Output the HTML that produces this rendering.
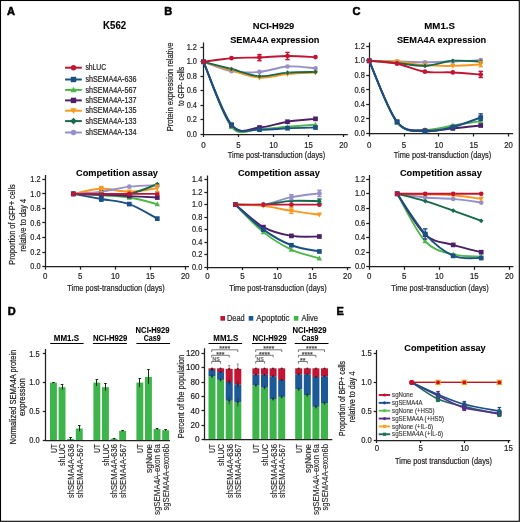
<!DOCTYPE html><html><head><meta charset="utf-8"><style>html,body{margin:0;padding:0;background:#fff;overflow:hidden;}svg{display:block;font-family:"Liberation Sans",sans-serif;}#main{filter:blur(0.3px);}</style></head><body>
<svg width="520" height="522" viewBox="0 0 520 522">
<rect x="0" y="0" width="520" height="522" fill="#fff"/>
<g id="main">
<text x="7" y="15" font-size="11" text-anchor="start" font-weight="bold" fill="#000" stroke="#000" stroke-width="0.1" style="stroke-width:0.55px">A</text>
<text x="164.2" y="15" font-size="11" text-anchor="start" font-weight="bold" fill="#000" stroke="#000" stroke-width="0.1" style="stroke-width:0.55px">B</text>
<text x="352.6" y="15" font-size="11" text-anchor="start" font-weight="bold" fill="#000" stroke="#000" stroke-width="0.1" style="stroke-width:0.55px">C</text>
<text x="7.8" y="314.8" font-size="11" text-anchor="start" font-weight="bold" fill="#000" stroke="#000" stroke-width="0.1" style="stroke-width:0.55px">D</text>
<text x="336.6" y="314.8" font-size="11" text-anchor="start" font-weight="bold" fill="#000" stroke="#000" stroke-width="0.1" style="stroke-width:0.55px">E</text>
<text x="114.6" y="28.9" font-size="10.2" text-anchor="middle" font-weight="bold" fill="#000" stroke="#000" stroke-width="0.1" textLength="23" lengthAdjust="spacingAndGlyphs" >K562</text>
<line x1="65.1" y1="67.7" x2="81.8" y2="67.7" stroke="#c41434" stroke-width="2" />
<circle cx="73.5" cy="67.7" r="2.7" fill="#c41434"/>
<text x="85.4" y="70.3" font-size="8.2" text-anchor="start" fill="#231f20" stroke="#231f20" stroke-width="0.22" textLength="20.8" lengthAdjust="spacingAndGlyphs" >shLUC</text>
<line x1="65.1" y1="79.5" x2="81.8" y2="79.5" stroke="#1b5085" stroke-width="2" />
<rect x="70.8" y="76.8" width="5.4" height="5.4" fill="#1b5085"/>
<text x="85.4" y="82.1" font-size="8.2" text-anchor="start" fill="#231f20" stroke="#231f20" stroke-width="0.22" textLength="51.1" lengthAdjust="spacingAndGlyphs" >shSEMA4A-636</text>
<line x1="65.1" y1="89.9" x2="81.8" y2="89.9" stroke="#4cb848" stroke-width="2" />
<polygon points="73.5,86.66 70.39,92.33 76.61,92.33" fill="#4cb848"/>
<text x="85.4" y="92.5" font-size="8.2" text-anchor="start" fill="#231f20" stroke="#231f20" stroke-width="0.22" textLength="51.1" lengthAdjust="spacingAndGlyphs" >shSEMA4A-567</text>
<line x1="65.1" y1="100.4" x2="81.8" y2="100.4" stroke="#4c2068" stroke-width="2" />
<rect x="70.8" y="97.7" width="5.4" height="5.4" fill="#4c2068"/>
<text x="85.4" y="103" font-size="8.2" text-anchor="start" fill="#231f20" stroke="#231f20" stroke-width="0.22" textLength="51.1" lengthAdjust="spacingAndGlyphs" >shSEMA4A-137</text>
<line x1="65.1" y1="110.7" x2="81.8" y2="110.7" stroke="#f8981d" stroke-width="2" />
<polygon points="73.5,113.94 70.39,108.27 76.61,108.27" fill="#f8981d"/>
<text x="85.4" y="113.3" font-size="8.2" text-anchor="start" fill="#231f20" stroke="#231f20" stroke-width="0.22" textLength="51.1" lengthAdjust="spacingAndGlyphs" >shSEMA4A-135</text>
<line x1="65.1" y1="121.1" x2="81.8" y2="121.1" stroke="#16694a" stroke-width="2" />
<polygon points="73.5,117.72 76.88,121.1 73.5,124.47 70.12,121.1" fill="#16694a"/>
<text x="85.4" y="123.7" font-size="8.2" text-anchor="start" fill="#231f20" stroke="#231f20" stroke-width="0.22" textLength="51.1" lengthAdjust="spacingAndGlyphs" >shSEMA4A-133</text>
<line x1="65.1" y1="132.5" x2="81.8" y2="132.5" stroke="#9590cc" stroke-width="2" />
<circle cx="73.5" cy="132.5" r="2.7" fill="#9590cc"/>
<text x="85.4" y="135.1" font-size="8.2" text-anchor="start" fill="#231f20" stroke="#231f20" stroke-width="0.22" textLength="51.1" lengthAdjust="spacingAndGlyphs" >shSEMA4A-134</text>
<text x="273.5" y="28.6" font-size="9.6" text-anchor="middle" font-weight="bold" fill="#000" stroke="#000" stroke-width="0.1" textLength="41.7" lengthAdjust="spacingAndGlyphs" >NCI-H929</text>
<text x="274.8" y="42.6" font-size="9.6" text-anchor="middle" font-weight="bold" fill="#000" stroke="#000" stroke-width="0.1" textLength="89.3" lengthAdjust="spacingAndGlyphs" >SEMA4A expression</text>
<line x1="203.5" y1="42.5" x2="203.5" y2="134.5" stroke="#231f20" stroke-width="1.25" />
<line x1="200.5" y1="134.5" x2="203.5" y2="134.5" stroke="#231f20" stroke-width="1.25" />
<text x="197" y="136.65" font-size="8.6" text-anchor="end" fill="#231f20" stroke="#231f20" stroke-width="0.22" textLength="10.3" lengthAdjust="spacingAndGlyphs" >0.0</text>
<line x1="200.5" y1="119.5" x2="203.5" y2="119.5" stroke="#231f20" stroke-width="1.25" />
<text x="197" y="122.21" font-size="8.6" text-anchor="end" fill="#231f20" stroke="#231f20" stroke-width="0.22" textLength="10.3" lengthAdjust="spacingAndGlyphs" >0.2</text>
<line x1="200.5" y1="105.5" x2="203.5" y2="105.5" stroke="#231f20" stroke-width="1.25" />
<text x="197" y="107.77" font-size="8.6" text-anchor="end" fill="#231f20" stroke="#231f20" stroke-width="0.22" textLength="10.3" lengthAdjust="spacingAndGlyphs" >0.4</text>
<line x1="200.5" y1="90.5" x2="203.5" y2="90.5" stroke="#231f20" stroke-width="1.25" />
<text x="197" y="93.33" font-size="8.6" text-anchor="end" fill="#231f20" stroke="#231f20" stroke-width="0.22" textLength="10.3" lengthAdjust="spacingAndGlyphs" >0.6</text>
<line x1="200.5" y1="76.5" x2="203.5" y2="76.5" stroke="#231f20" stroke-width="1.25" />
<text x="197" y="78.89" font-size="8.6" text-anchor="end" fill="#231f20" stroke="#231f20" stroke-width="0.22" textLength="10.3" lengthAdjust="spacingAndGlyphs" >0.8</text>
<line x1="200.5" y1="61.5" x2="203.5" y2="61.5" stroke="#231f20" stroke-width="1.25" />
<text x="197" y="64.45" font-size="8.6" text-anchor="end" fill="#231f20" stroke="#231f20" stroke-width="0.22" textLength="10.3" lengthAdjust="spacingAndGlyphs" >1.0</text>
<line x1="200.5" y1="47.5" x2="203.5" y2="47.5" stroke="#231f20" stroke-width="1.25" />
<text x="197" y="50.01" font-size="8.6" text-anchor="end" fill="#231f20" stroke="#231f20" stroke-width="0.22" textLength="10.3" lengthAdjust="spacingAndGlyphs" >1.2</text>
<line x1="203" y1="134.5" x2="347.8" y2="134.5" stroke="#231f20" stroke-width="1.25" />
<line x1="203.5" y1="134" x2="203.5" y2="137" stroke="#231f20" stroke-width="1.25" />
<text x="203.5" y="147.8" font-size="8.6" text-anchor="middle" fill="#231f20" stroke="#231f20" stroke-width="0.22" textLength="4.4" lengthAdjust="spacingAndGlyphs" >0</text>
<line x1="238.5" y1="134" x2="238.5" y2="137" stroke="#231f20" stroke-width="1.25" />
<text x="238.5" y="147.8" font-size="8.6" text-anchor="middle" fill="#231f20" stroke="#231f20" stroke-width="0.22" textLength="4.4" lengthAdjust="spacingAndGlyphs" >5</text>
<line x1="273.5" y1="134" x2="273.5" y2="137" stroke="#231f20" stroke-width="1.25" />
<text x="273.5" y="147.8" font-size="8.6" text-anchor="middle" fill="#231f20" stroke="#231f20" stroke-width="0.22" textLength="8.6" lengthAdjust="spacingAndGlyphs" >10</text>
<line x1="308.5" y1="134" x2="308.5" y2="137" stroke="#231f20" stroke-width="1.25" />
<text x="308.5" y="147.8" font-size="8.6" text-anchor="middle" fill="#231f20" stroke="#231f20" stroke-width="0.22" textLength="8.6" lengthAdjust="spacingAndGlyphs" >15</text>
<line x1="343.5" y1="134" x2="343.5" y2="137" stroke="#231f20" stroke-width="1.25" />
<text x="343.5" y="147.8" font-size="8.6" text-anchor="middle" fill="#231f20" stroke="#231f20" stroke-width="0.22" textLength="8.6" lengthAdjust="spacingAndGlyphs" >20</text>
<text x="276.5" y="157.9" font-size="9.4" text-anchor="middle" fill="#231f20" stroke="#231f20" stroke-width="0.22" textLength="97.5" lengthAdjust="spacingAndGlyphs" >Time post-transduction (days)</text>
<text transform="translate(172.6 86.9) rotate(-90)" x="0" y="0" font-size="8.6" text-anchor="middle" fill="#231f20" stroke="#231f20" stroke-width="0.22" textLength="88.5" lengthAdjust="spacingAndGlyphs">Protein expression relative</text>
<text transform="translate(183.6 86.4) rotate(-90)" x="0" y="0" font-size="8.6" text-anchor="middle" fill="#231f20" stroke="#231f20" stroke-width="0.22" textLength="39" lengthAdjust="spacingAndGlyphs">to GFP- cells</text>
<path d="M203.5,61.8 C208.17,63.36 222.17,69.5 231.5,71.19 C240.83,72.87 250.17,72.69 259.5,71.91 C268.83,71.13 278.17,67.09 287.5,66.49 C296.83,65.89 310.83,68 315.5,68.3" fill="none" stroke="#9590cc" stroke-width="1.9" stroke-linejoin="round"/>
<path d="M203.5,61.8 C208.17,63.24 222.17,67.82 231.5,70.46 C240.83,73.11 250.17,77.08 259.5,77.68 C268.83,78.29 278.17,74.92 287.5,74.07 C296.83,73.23 310.83,72.87 315.5,72.63" fill="none" stroke="#f8981d" stroke-width="1.9" stroke-linejoin="round"/>
<path d="M203.5,61.8 C208.17,63 222.17,66.61 231.5,69.02 C240.83,71.43 250.17,75.64 259.5,76.24 C268.83,76.84 278.17,73.35 287.5,72.63 C296.83,71.91 310.83,72.03 315.5,71.91" fill="none" stroke="#16694a" stroke-width="1.9" stroke-linejoin="round"/>
<path d="M203.5,61.8 C208.17,72.63 222.17,115.59 231.5,126.78 C240.83,137.97 250.17,128.95 259.5,128.95 C268.83,128.95 278.17,127.5 287.5,126.78 C296.83,126.06 310.83,124.98 315.5,124.61" fill="none" stroke="#4cb848" stroke-width="1.9" stroke-linejoin="round"/>
<path d="M203.5,61.8 C208.17,72.39 222.17,114.39 231.5,125.34 C240.83,136.29 250.17,128.1 259.5,127.5 C268.83,126.9 278.17,123.17 287.5,121.73 C296.83,120.28 310.83,119.32 315.5,118.84" fill="none" stroke="#4c2068" stroke-width="1.9" stroke-linejoin="round"/>
<path d="M203.5,61.8 C208.17,72.27 222.17,113.3 231.5,124.61 C240.83,135.93 250.17,129.07 259.5,129.67 C268.83,130.27 278.17,128.58 287.5,128.22 C296.83,127.86 310.83,127.62 315.5,127.5" fill="none" stroke="#1b5085" stroke-width="1.9" stroke-linejoin="round"/>
<path d="M203.5,61.8 C208.17,61.2 222.17,58.91 231.5,58.19 C240.83,57.47 250.17,57.83 259.5,57.47 C268.83,57.11 278.17,56.08 287.5,56.02 C296.83,55.96 310.83,56.93 315.5,57.11" fill="none" stroke="#c41434" stroke-width="1.9" stroke-linejoin="round"/>
<circle cx="203.5" cy="61.8" r="2.35" fill="#9590cc"/>
<circle cx="231.5" cy="71.19" r="2.35" fill="#9590cc"/>
<circle cx="259.5" cy="71.91" r="2.35" fill="#9590cc"/>
<circle cx="287.5" cy="66.49" r="2.35" fill="#9590cc"/>
<circle cx="315.5" cy="68.3" r="2.35" fill="#9590cc"/>
<polygon points="203.5,64.62 200.8,59.68 206.2,59.68" fill="#f8981d"/>
<polygon points="231.5,73.28 228.8,68.35 234.2,68.35" fill="#f8981d"/>
<polygon points="259.5,80.5 256.8,75.57 262.2,75.57" fill="#f8981d"/>
<polygon points="287.5,76.89 284.8,71.96 290.2,71.96" fill="#f8981d"/>
<polygon points="315.5,75.45 312.8,70.52 318.2,70.52" fill="#f8981d"/>
<polygon points="203.5,59.45 205.85,61.8 203.5,64.15 201.15,61.8" fill="#16694a"/>
<polygon points="231.5,66.67 233.85,69.02 231.5,71.37 229.15,69.02" fill="#16694a"/>
<polygon points="259.5,73.89 261.85,76.24 259.5,78.59 257.15,76.24" fill="#16694a"/>
<polygon points="287.5,70.28 289.85,72.63 287.5,74.98 285.15,72.63" fill="#16694a"/>
<polygon points="315.5,69.56 317.85,71.91 315.5,74.26 313.15,71.91" fill="#16694a"/>
<polygon points="203.5,58.98 200.8,63.91 206.2,63.91" fill="#4cb848"/>
<polygon points="231.5,123.96 228.8,128.9 234.2,128.9" fill="#4cb848"/>
<polygon points="259.5,126.13 256.8,131.06 262.2,131.06" fill="#4cb848"/>
<polygon points="287.5,123.96 284.8,128.9 290.2,128.9" fill="#4cb848"/>
<polygon points="315.5,121.79 312.8,126.73 318.2,126.73" fill="#4cb848"/>
<rect x="201.15" y="59.45" width="4.7" height="4.7" fill="#4c2068"/>
<rect x="229.15" y="122.99" width="4.7" height="4.7" fill="#4c2068"/>
<rect x="257.15" y="125.15" width="4.7" height="4.7" fill="#4c2068"/>
<rect x="285.15" y="119.38" width="4.7" height="4.7" fill="#4c2068"/>
<rect x="313.15" y="116.49" width="4.7" height="4.7" fill="#4c2068"/>
<rect x="201.15" y="59.45" width="4.7" height="4.7" fill="#1b5085"/>
<rect x="229.15" y="122.26" width="4.7" height="4.7" fill="#1b5085"/>
<rect x="257.15" y="127.32" width="4.7" height="4.7" fill="#1b5085"/>
<rect x="285.15" y="125.87" width="4.7" height="4.7" fill="#1b5085"/>
<rect x="313.15" y="125.15" width="4.7" height="4.7" fill="#1b5085"/>
<circle cx="203.5" cy="61.8" r="2.35" fill="#c41434"/>
<circle cx="231.5" cy="58.19" r="2.35" fill="#c41434"/>
<circle cx="259.5" cy="57.47" r="2.35" fill="#c41434"/>
<circle cx="287.5" cy="56.02" r="2.35" fill="#c41434"/>
<circle cx="315.5" cy="57.11" r="2.35" fill="#c41434"/>
<line x1="259.5" y1="60.72" x2="259.5" y2="54.58" stroke="#c41434" stroke-width="1.4" />
<line x1="257.3" y1="60.72" x2="261.7" y2="60.72" stroke="#c41434" stroke-width="1.4" />
<line x1="257.3" y1="54.58" x2="261.7" y2="54.58" stroke="#c41434" stroke-width="1.4" />
<line x1="287.5" y1="59.63" x2="287.5" y2="52.41" stroke="#c41434" stroke-width="1.4" />
<line x1="285.3" y1="59.63" x2="289.7" y2="59.63" stroke="#c41434" stroke-width="1.4" />
<line x1="285.3" y1="52.41" x2="289.7" y2="52.41" stroke="#c41434" stroke-width="1.4" />
<text x="439.6" y="28.9" font-size="9.6" text-anchor="middle" font-weight="bold" fill="#000" stroke="#000" stroke-width="0.1" textLength="30.7" lengthAdjust="spacingAndGlyphs" >MM1.S</text>
<text x="441.6" y="42.6" font-size="9.6" text-anchor="middle" font-weight="bold" fill="#000" stroke="#000" stroke-width="0.1" textLength="89.3" lengthAdjust="spacingAndGlyphs" >SEMA4A expression</text>
<line x1="369.5" y1="42.5" x2="369.5" y2="134" stroke="#231f20" stroke-width="1.25" />
<line x1="366.2" y1="133.5" x2="369.2" y2="133.5" stroke="#231f20" stroke-width="1.25" />
<text x="364.8" y="136.15" font-size="8.6" text-anchor="end" fill="#231f20" stroke="#231f20" stroke-width="0.22" textLength="10.3" lengthAdjust="spacingAndGlyphs" >0.0</text>
<line x1="366.2" y1="118.5" x2="369.2" y2="118.5" stroke="#231f20" stroke-width="1.25" />
<text x="364.8" y="121.61" font-size="8.6" text-anchor="end" fill="#231f20" stroke="#231f20" stroke-width="0.22" textLength="10.3" lengthAdjust="spacingAndGlyphs" >0.2</text>
<line x1="366.2" y1="104.5" x2="369.2" y2="104.5" stroke="#231f20" stroke-width="1.25" />
<text x="364.8" y="107.07" font-size="8.6" text-anchor="end" fill="#231f20" stroke="#231f20" stroke-width="0.22" textLength="10.3" lengthAdjust="spacingAndGlyphs" >0.4</text>
<line x1="366.2" y1="89.5" x2="369.2" y2="89.5" stroke="#231f20" stroke-width="1.25" />
<text x="364.8" y="92.53" font-size="8.6" text-anchor="end" fill="#231f20" stroke="#231f20" stroke-width="0.22" textLength="10.3" lengthAdjust="spacingAndGlyphs" >0.6</text>
<line x1="366.2" y1="75.5" x2="369.2" y2="75.5" stroke="#231f20" stroke-width="1.25" />
<text x="364.8" y="77.99" font-size="8.6" text-anchor="end" fill="#231f20" stroke="#231f20" stroke-width="0.22" textLength="10.3" lengthAdjust="spacingAndGlyphs" >0.8</text>
<line x1="366.2" y1="60.5" x2="369.2" y2="60.5" stroke="#231f20" stroke-width="1.25" />
<text x="364.8" y="63.45" font-size="8.6" text-anchor="end" fill="#231f20" stroke="#231f20" stroke-width="0.22" textLength="10.3" lengthAdjust="spacingAndGlyphs" >1.0</text>
<line x1="366.2" y1="46.5" x2="369.2" y2="46.5" stroke="#231f20" stroke-width="1.25" />
<text x="364.8" y="48.91" font-size="8.6" text-anchor="end" fill="#231f20" stroke="#231f20" stroke-width="0.22" textLength="10.3" lengthAdjust="spacingAndGlyphs" >1.2</text>
<line x1="368.7" y1="133.5" x2="513.1" y2="133.5" stroke="#231f20" stroke-width="1.25" />
<line x1="369.5" y1="133.5" x2="369.5" y2="136.5" stroke="#231f20" stroke-width="1.25" />
<text x="369.2" y="147.8" font-size="8.6" text-anchor="middle" fill="#231f20" stroke="#231f20" stroke-width="0.22" textLength="4.4" lengthAdjust="spacingAndGlyphs" >0</text>
<line x1="404.5" y1="133.5" x2="404.5" y2="136.5" stroke="#231f20" stroke-width="1.25" />
<text x="404.05" y="147.8" font-size="8.6" text-anchor="middle" fill="#231f20" stroke="#231f20" stroke-width="0.22" textLength="4.4" lengthAdjust="spacingAndGlyphs" >5</text>
<line x1="438.5" y1="133.5" x2="438.5" y2="136.5" stroke="#231f20" stroke-width="1.25" />
<text x="438.9" y="147.8" font-size="8.6" text-anchor="middle" fill="#231f20" stroke="#231f20" stroke-width="0.22" textLength="8.6" lengthAdjust="spacingAndGlyphs" >10</text>
<line x1="473.5" y1="133.5" x2="473.5" y2="136.5" stroke="#231f20" stroke-width="1.25" />
<text x="473.75" y="147.8" font-size="8.6" text-anchor="middle" fill="#231f20" stroke="#231f20" stroke-width="0.22" textLength="8.6" lengthAdjust="spacingAndGlyphs" >15</text>
<line x1="508.5" y1="133.5" x2="508.5" y2="136.5" stroke="#231f20" stroke-width="1.25" />
<text x="508.6" y="147.8" font-size="8.6" text-anchor="middle" fill="#231f20" stroke="#231f20" stroke-width="0.22" textLength="8.6" lengthAdjust="spacingAndGlyphs" >20</text>
<text x="442.5" y="157.9" font-size="9.4" text-anchor="middle" fill="#231f20" stroke="#231f20" stroke-width="0.22" textLength="97.5" lengthAdjust="spacingAndGlyphs" >Time post-transduction (days)</text>
<path d="M369.2,60.8 C373.85,60.92 387.79,61.28 397.08,61.53 C406.37,61.77 415.67,62.25 424.96,62.25 C434.25,62.25 443.55,61.89 452.84,61.53 C462.13,61.16 476.07,60.32 480.72,60.07" fill="none" stroke="#9590cc" stroke-width="1.9" stroke-linejoin="round"/>
<path d="M369.2,60.8 C373.85,60.92 387.79,60.8 397.08,61.53 C406.37,62.25 415.67,64.44 424.96,65.16 C434.25,65.89 443.55,66.01 452.84,65.89 C462.13,65.77 476.07,64.68 480.72,64.44" fill="none" stroke="#f8981d" stroke-width="1.9" stroke-linejoin="round"/>
<path d="M369.2,60.8 C373.85,61.16 387.79,62.13 397.08,62.98 C406.37,63.83 415.67,66.25 424.96,65.89 C434.25,65.53 443.55,61.53 452.84,60.8 C462.13,60.07 476.07,61.41 480.72,61.53" fill="none" stroke="#16694a" stroke-width="1.9" stroke-linejoin="round"/>
<path d="M369.2,60.8 C373.85,71.1 387.79,111.08 397.08,122.59 C406.37,134.11 415.67,129.38 424.96,129.87 C434.25,130.35 443.55,126.96 452.84,125.5 C462.13,124.05 476.07,121.87 480.72,121.14" fill="none" stroke="#4cb848" stroke-width="1.9" stroke-linejoin="round"/>
<path d="M369.2,60.8 C373.85,70.98 387.79,110.24 397.08,121.87 C406.37,133.5 415.67,129.5 424.96,130.59 C434.25,131.68 443.55,129.26 452.84,128.41 C462.13,127.56 476.07,125.99 480.72,125.5" fill="none" stroke="#4c2068" stroke-width="1.9" stroke-linejoin="round"/>
<path d="M369.2,60.8 C373.85,70.98 387.79,110.11 397.08,121.87 C406.37,133.62 415.67,130.47 424.96,131.32 C434.25,132.17 443.55,129.26 452.84,126.96 C462.13,124.65 476.07,119.08 480.72,117.51" fill="none" stroke="#1b5085" stroke-width="1.9" stroke-linejoin="round"/>
<path d="M369.2,60.8 C373.85,61.28 387.79,61.89 397.08,63.71 C406.37,65.53 415.67,70.25 424.96,71.7 C434.25,73.16 443.55,71.95 452.84,72.43 C462.13,72.92 476.07,74.25 480.72,74.61" fill="none" stroke="#c41434" stroke-width="1.9" stroke-linejoin="round"/>
<circle cx="369.2" cy="60.8" r="2.35" fill="#9590cc"/>
<circle cx="397.08" cy="61.53" r="2.35" fill="#9590cc"/>
<circle cx="424.96" cy="62.25" r="2.35" fill="#9590cc"/>
<circle cx="452.84" cy="61.53" r="2.35" fill="#9590cc"/>
<circle cx="480.72" cy="60.07" r="2.35" fill="#9590cc"/>
<polygon points="369.2,63.62 366.5,58.68 371.9,58.68" fill="#f8981d"/>
<polygon points="397.08,64.35 394.38,59.41 399.78,59.41" fill="#f8981d"/>
<polygon points="424.96,67.98 422.26,63.05 427.66,63.05" fill="#f8981d"/>
<polygon points="452.84,68.71 450.14,63.77 455.54,63.77" fill="#f8981d"/>
<polygon points="480.72,67.25 478.02,62.32 483.42,62.32" fill="#f8981d"/>
<polygon points="369.2,58.45 371.55,60.8 369.2,63.15 366.85,60.8" fill="#16694a"/>
<polygon points="397.08,60.63 399.43,62.98 397.08,65.33 394.73,62.98" fill="#16694a"/>
<polygon points="424.96,63.54 427.31,65.89 424.96,68.24 422.61,65.89" fill="#16694a"/>
<polygon points="452.84,58.45 455.19,60.8 452.84,63.15 450.49,60.8" fill="#16694a"/>
<polygon points="480.72,59.18 483.07,61.53 480.72,63.88 478.37,61.53" fill="#16694a"/>
<polygon points="369.2,57.98 366.5,62.91 371.9,62.91" fill="#4cb848"/>
<polygon points="397.08,119.78 394.38,124.71 399.78,124.71" fill="#4cb848"/>
<polygon points="424.96,127.05 422.26,131.98 427.66,131.98" fill="#4cb848"/>
<polygon points="452.84,122.68 450.14,127.62 455.54,127.62" fill="#4cb848"/>
<polygon points="480.72,118.32 478.02,123.26 483.42,123.26" fill="#4cb848"/>
<rect x="366.85" y="58.45" width="4.7" height="4.7" fill="#4c2068"/>
<rect x="394.73" y="119.52" width="4.7" height="4.7" fill="#4c2068"/>
<rect x="422.61" y="128.24" width="4.7" height="4.7" fill="#4c2068"/>
<rect x="450.49" y="126.06" width="4.7" height="4.7" fill="#4c2068"/>
<rect x="478.37" y="123.15" width="4.7" height="4.7" fill="#4c2068"/>
<rect x="366.85" y="58.45" width="4.7" height="4.7" fill="#1b5085"/>
<rect x="394.73" y="119.52" width="4.7" height="4.7" fill="#1b5085"/>
<rect x="422.61" y="128.97" width="4.7" height="4.7" fill="#1b5085"/>
<rect x="450.49" y="124.61" width="4.7" height="4.7" fill="#1b5085"/>
<rect x="478.37" y="115.16" width="4.7" height="4.7" fill="#1b5085"/>
<circle cx="369.2" cy="60.8" r="2.35" fill="#c41434"/>
<circle cx="397.08" cy="63.71" r="2.35" fill="#c41434"/>
<circle cx="424.96" cy="71.7" r="2.35" fill="#c41434"/>
<circle cx="452.84" cy="72.43" r="2.35" fill="#c41434"/>
<circle cx="480.72" cy="74.61" r="2.35" fill="#c41434"/>
<line x1="480.72" y1="77.52" x2="480.72" y2="71.34" stroke="#c41434" stroke-width="1.4" />
<line x1="478.52" y1="77.52" x2="482.92" y2="77.52" stroke="#c41434" stroke-width="1.4" />
<line x1="478.52" y1="71.34" x2="482.92" y2="71.34" stroke="#c41434" stroke-width="1.4" />
<line x1="480.72" y1="120.41" x2="480.72" y2="113.87" stroke="#1b5085" stroke-width="1.4" />
<line x1="478.52" y1="120.41" x2="482.92" y2="120.41" stroke="#1b5085" stroke-width="1.4" />
<line x1="478.52" y1="113.87" x2="482.92" y2="113.87" stroke="#1b5085" stroke-width="1.4" />
<line x1="480.72" y1="66.62" x2="480.72" y2="61.53" stroke="#f8981d" stroke-width="1.4" />
<line x1="478.52" y1="66.62" x2="482.92" y2="66.62" stroke="#f8981d" stroke-width="1.4" />
<line x1="478.52" y1="61.53" x2="482.92" y2="61.53" stroke="#f8981d" stroke-width="1.4" />
<text x="117" y="176.4" font-size="9.6" text-anchor="middle" font-weight="bold" fill="#000" stroke="#000" stroke-width="0.1" textLength="82" lengthAdjust="spacingAndGlyphs" >Competition assay</text>
<line x1="45.5" y1="175" x2="45.5" y2="267.1" stroke="#231f20" stroke-width="1.25" />
<line x1="42.3" y1="266.5" x2="45.3" y2="266.5" stroke="#231f20" stroke-width="1.25" />
<text x="40.6" y="269.25" font-size="8.6" text-anchor="end" fill="#231f20" stroke="#231f20" stroke-width="0.22" textLength="10.3" lengthAdjust="spacingAndGlyphs" >0.0</text>
<line x1="42.3" y1="252.5" x2="45.3" y2="252.5" stroke="#231f20" stroke-width="1.25" />
<text x="40.6" y="254.71" font-size="8.6" text-anchor="end" fill="#231f20" stroke="#231f20" stroke-width="0.22" textLength="10.3" lengthAdjust="spacingAndGlyphs" >0.2</text>
<line x1="42.3" y1="237.5" x2="45.3" y2="237.5" stroke="#231f20" stroke-width="1.25" />
<text x="40.6" y="240.17" font-size="8.6" text-anchor="end" fill="#231f20" stroke="#231f20" stroke-width="0.22" textLength="10.3" lengthAdjust="spacingAndGlyphs" >0.4</text>
<line x1="42.3" y1="222.5" x2="45.3" y2="222.5" stroke="#231f20" stroke-width="1.25" />
<text x="40.6" y="225.63" font-size="8.6" text-anchor="end" fill="#231f20" stroke="#231f20" stroke-width="0.22" textLength="10.3" lengthAdjust="spacingAndGlyphs" >0.6</text>
<line x1="42.3" y1="208.5" x2="45.3" y2="208.5" stroke="#231f20" stroke-width="1.25" />
<text x="40.6" y="211.09" font-size="8.6" text-anchor="end" fill="#231f20" stroke="#231f20" stroke-width="0.22" textLength="10.3" lengthAdjust="spacingAndGlyphs" >0.8</text>
<line x1="42.3" y1="193.5" x2="45.3" y2="193.5" stroke="#231f20" stroke-width="1.25" />
<text x="40.6" y="196.55" font-size="8.6" text-anchor="end" fill="#231f20" stroke="#231f20" stroke-width="0.22" textLength="10.3" lengthAdjust="spacingAndGlyphs" >1.0</text>
<line x1="42.3" y1="179.5" x2="45.3" y2="179.5" stroke="#231f20" stroke-width="1.25" />
<text x="40.6" y="182.01" font-size="8.6" text-anchor="end" fill="#231f20" stroke="#231f20" stroke-width="0.22" textLength="10.3" lengthAdjust="spacingAndGlyphs" >1.2</text>
<line x1="44.8" y1="266.5" x2="189" y2="266.5" stroke="#231f20" stroke-width="1.25" />
<line x1="45.5" y1="266.6" x2="45.5" y2="269.6" stroke="#231f20" stroke-width="1.25" />
<text x="45.3" y="279.1" font-size="8.6" text-anchor="middle" fill="#231f20" stroke="#231f20" stroke-width="0.22" textLength="4.4" lengthAdjust="spacingAndGlyphs" >0</text>
<line x1="80.5" y1="266.6" x2="80.5" y2="269.6" stroke="#231f20" stroke-width="1.25" />
<text x="80.3" y="279.1" font-size="8.6" text-anchor="middle" fill="#231f20" stroke="#231f20" stroke-width="0.22" textLength="4.4" lengthAdjust="spacingAndGlyphs" >5</text>
<line x1="115.5" y1="266.6" x2="115.5" y2="269.6" stroke="#231f20" stroke-width="1.25" />
<text x="115.3" y="279.1" font-size="8.6" text-anchor="middle" fill="#231f20" stroke="#231f20" stroke-width="0.22" textLength="8.6" lengthAdjust="spacingAndGlyphs" >10</text>
<line x1="150.5" y1="266.6" x2="150.5" y2="269.6" stroke="#231f20" stroke-width="1.25" />
<text x="150.3" y="279.1" font-size="8.6" text-anchor="middle" fill="#231f20" stroke="#231f20" stroke-width="0.22" textLength="8.6" lengthAdjust="spacingAndGlyphs" >15</text>
<line x1="185.5" y1="266.6" x2="185.5" y2="269.6" stroke="#231f20" stroke-width="1.25" />
<text x="185.3" y="279.1" font-size="8.6" text-anchor="middle" fill="#231f20" stroke="#231f20" stroke-width="0.22" textLength="8.6" lengthAdjust="spacingAndGlyphs" >20</text>
<text x="116" y="291.3" font-size="9.4" text-anchor="middle" fill="#231f20" stroke="#231f20" stroke-width="0.22" textLength="97.5" lengthAdjust="spacingAndGlyphs" >Time post-transduction (days)</text>
<text transform="translate(14.6 224.5) rotate(-90)" x="0" y="0" font-size="8.6" text-anchor="middle" fill="#231f20" stroke="#231f20" stroke-width="0.22" textLength="80.4" lengthAdjust="spacingAndGlyphs">Proportion of GFP+ cells</text>
<text transform="translate(25.8 225.2) rotate(-90)" x="0" y="0" font-size="8.6" text-anchor="middle" fill="#231f20" stroke="#231f20" stroke-width="0.22" textLength="53" lengthAdjust="spacingAndGlyphs">relative to day 4</text>
<path d="M73.3,193.9 C77.97,193.05 91.97,189.17 101.3,188.81 C110.63,188.45 119.97,191.84 129.3,191.72 C138.63,191.6 152.63,188.69 157.3,188.08" fill="none" stroke="#f8981d" stroke-width="1.9" stroke-linejoin="round"/>
<path d="M73.3,193.9 C77.97,193.54 91.97,192.93 101.3,191.72 C110.63,190.51 119.97,187.72 129.3,186.63 C138.63,185.54 152.63,185.42 157.3,185.18" fill="none" stroke="#9590cc" stroke-width="1.9" stroke-linejoin="round"/>
<path d="M73.3,193.9 C77.97,193.9 91.97,193.9 101.3,193.9 C110.63,193.9 119.97,195.54 129.3,193.9 C138.63,192.26 152.63,185.72 157.3,184.09" fill="none" stroke="#16694a" stroke-width="1.9" stroke-linejoin="round"/>
<path d="M73.3,193.9 C77.97,194.14 91.97,194.75 101.3,195.35 C110.63,195.96 119.97,196.08 129.3,197.54 C138.63,198.99 152.63,202.99 157.3,204.08" fill="none" stroke="#4cb848" stroke-width="1.9" stroke-linejoin="round"/>
<path d="M73.3,193.9 C77.97,194.02 91.97,194.26 101.3,194.63 C110.63,194.99 119.97,195.6 129.3,196.08 C138.63,196.57 152.63,197.29 157.3,197.54" fill="none" stroke="#4c2068" stroke-width="1.9" stroke-linejoin="round"/>
<path d="M73.3,193.9 C77.97,194.75 91.97,197.29 101.3,198.99 C110.63,200.69 119.97,200.81 129.3,204.08 C138.63,207.35 152.63,216.19 157.3,218.62" fill="none" stroke="#1b5085" stroke-width="1.9" stroke-linejoin="round"/>
<path d="M73.3,193.9 C77.97,193.9 91.97,193.9 101.3,193.9 C110.63,193.9 119.97,193.9 129.3,193.9 C138.63,193.9 152.63,193.9 157.3,193.9" fill="none" stroke="#c41434" stroke-width="1.9" stroke-linejoin="round"/>
<polygon points="73.3,196.72 70.6,191.79 76,191.79" fill="#f8981d"/>
<polygon points="101.3,191.63 98.6,186.7 104,186.7" fill="#f8981d"/>
<polygon points="129.3,194.54 126.6,189.6 132,189.6" fill="#f8981d"/>
<polygon points="157.3,190.9 154.6,185.97 160,185.97" fill="#f8981d"/>
<circle cx="73.3" cy="193.9" r="2.35" fill="#9590cc"/>
<circle cx="101.3" cy="191.72" r="2.35" fill="#9590cc"/>
<circle cx="129.3" cy="186.63" r="2.35" fill="#9590cc"/>
<circle cx="157.3" cy="185.18" r="2.35" fill="#9590cc"/>
<polygon points="73.3,191.55 75.65,193.9 73.3,196.25 70.95,193.9" fill="#16694a"/>
<polygon points="101.3,191.55 103.65,193.9 101.3,196.25 98.95,193.9" fill="#16694a"/>
<polygon points="129.3,191.55 131.65,193.9 129.3,196.25 126.95,193.9" fill="#16694a"/>
<polygon points="157.3,181.74 159.65,184.09 157.3,186.44 154.95,184.09" fill="#16694a"/>
<polygon points="73.3,191.08 70.6,196.02 76,196.02" fill="#4cb848"/>
<polygon points="101.3,192.53 98.6,197.47 104,197.47" fill="#4cb848"/>
<polygon points="129.3,194.72 126.6,199.65 132,199.65" fill="#4cb848"/>
<polygon points="157.3,201.26 154.6,206.19 160,206.19" fill="#4cb848"/>
<rect x="70.95" y="191.55" width="4.7" height="4.7" fill="#4c2068"/>
<rect x="98.95" y="192.28" width="4.7" height="4.7" fill="#4c2068"/>
<rect x="126.95" y="193.73" width="4.7" height="4.7" fill="#4c2068"/>
<rect x="154.95" y="195.19" width="4.7" height="4.7" fill="#4c2068"/>
<rect x="70.95" y="191.55" width="4.7" height="4.7" fill="#1b5085"/>
<rect x="98.95" y="196.64" width="4.7" height="4.7" fill="#1b5085"/>
<rect x="126.95" y="201.73" width="4.7" height="4.7" fill="#1b5085"/>
<rect x="154.95" y="216.27" width="4.7" height="4.7" fill="#1b5085"/>
<circle cx="73.3" cy="193.9" r="2.35" fill="#c41434"/>
<circle cx="101.3" cy="193.9" r="2.35" fill="#c41434"/>
<circle cx="129.3" cy="193.9" r="2.35" fill="#c41434"/>
<circle cx="157.3" cy="193.9" r="2.35" fill="#c41434"/>
<line x1="101.3" y1="201.17" x2="101.3" y2="190.99" stroke="#1b5085" stroke-width="1.4" />
<line x1="99.1" y1="201.17" x2="103.5" y2="201.17" stroke="#1b5085" stroke-width="1.4" />
<line x1="99.1" y1="190.99" x2="103.5" y2="190.99" stroke="#1b5085" stroke-width="1.4" />
<line x1="101.3" y1="191.72" x2="101.3" y2="186.63" stroke="#f8981d" stroke-width="1.4" />
<line x1="99.1" y1="191.72" x2="103.5" y2="191.72" stroke="#f8981d" stroke-width="1.4" />
<line x1="99.1" y1="186.63" x2="103.5" y2="186.63" stroke="#f8981d" stroke-width="1.4" />
<line x1="157.3" y1="191.72" x2="157.3" y2="185.18" stroke="#f8981d" stroke-width="1.4" />
<line x1="155.1" y1="191.72" x2="159.5" y2="191.72" stroke="#f8981d" stroke-width="1.4" />
<line x1="155.1" y1="185.18" x2="159.5" y2="185.18" stroke="#f8981d" stroke-width="1.4" />
<text x="278.9" y="176.4" font-size="9.6" text-anchor="middle" font-weight="bold" fill="#000" stroke="#000" stroke-width="0.1" textLength="82" lengthAdjust="spacingAndGlyphs" >Competition assay</text>
<line x1="207.5" y1="175.5" x2="207.5" y2="267.6" stroke="#231f20" stroke-width="1.25" />
<line x1="204.4" y1="267.5" x2="207.4" y2="267.5" stroke="#231f20" stroke-width="1.25" />
<text x="202.3" y="269.75" font-size="8.6" text-anchor="end" fill="#231f20" stroke="#231f20" stroke-width="0.22" textLength="10.3" lengthAdjust="spacingAndGlyphs" >0.0</text>
<line x1="204.4" y1="254.5" x2="207.4" y2="254.5" stroke="#231f20" stroke-width="1.25" />
<text x="202.3" y="257.26" font-size="8.6" text-anchor="end" fill="#231f20" stroke="#231f20" stroke-width="0.22" textLength="10.3" lengthAdjust="spacingAndGlyphs" >0.2</text>
<line x1="204.4" y1="242.5" x2="207.4" y2="242.5" stroke="#231f20" stroke-width="1.25" />
<text x="202.3" y="244.77" font-size="8.6" text-anchor="end" fill="#231f20" stroke="#231f20" stroke-width="0.22" textLength="10.3" lengthAdjust="spacingAndGlyphs" >0.4</text>
<line x1="204.4" y1="229.5" x2="207.4" y2="229.5" stroke="#231f20" stroke-width="1.25" />
<text x="202.3" y="232.28" font-size="8.6" text-anchor="end" fill="#231f20" stroke="#231f20" stroke-width="0.22" textLength="10.3" lengthAdjust="spacingAndGlyphs" >0.6</text>
<line x1="204.4" y1="217.5" x2="207.4" y2="217.5" stroke="#231f20" stroke-width="1.25" />
<text x="202.3" y="219.79" font-size="8.6" text-anchor="end" fill="#231f20" stroke="#231f20" stroke-width="0.22" textLength="10.3" lengthAdjust="spacingAndGlyphs" >0.8</text>
<line x1="204.4" y1="204.5" x2="207.4" y2="204.5" stroke="#231f20" stroke-width="1.25" />
<text x="202.3" y="207.3" font-size="8.6" text-anchor="end" fill="#231f20" stroke="#231f20" stroke-width="0.22" textLength="10.3" lengthAdjust="spacingAndGlyphs" >1.0</text>
<line x1="204.4" y1="192.5" x2="207.4" y2="192.5" stroke="#231f20" stroke-width="1.25" />
<text x="202.3" y="194.81" font-size="8.6" text-anchor="end" fill="#231f20" stroke="#231f20" stroke-width="0.22" textLength="10.3" lengthAdjust="spacingAndGlyphs" >1.2</text>
<line x1="204.4" y1="179.5" x2="207.4" y2="179.5" stroke="#231f20" stroke-width="1.25" />
<text x="202.3" y="182.32" font-size="8.6" text-anchor="end" fill="#231f20" stroke="#231f20" stroke-width="0.22" textLength="10.3" lengthAdjust="spacingAndGlyphs" >1.4</text>
<line x1="206.9" y1="267.5" x2="350.7" y2="267.5" stroke="#231f20" stroke-width="1.25" />
<line x1="207.5" y1="267.1" x2="207.5" y2="270.1" stroke="#231f20" stroke-width="1.25" />
<text x="207.4" y="279.1" font-size="8.6" text-anchor="middle" fill="#231f20" stroke="#231f20" stroke-width="0.22" textLength="4.4" lengthAdjust="spacingAndGlyphs" >0</text>
<line x1="242.5" y1="267.1" x2="242.5" y2="270.1" stroke="#231f20" stroke-width="1.25" />
<text x="242.4" y="279.1" font-size="8.6" text-anchor="middle" fill="#231f20" stroke="#231f20" stroke-width="0.22" textLength="4.4" lengthAdjust="spacingAndGlyphs" >5</text>
<line x1="277.5" y1="267.1" x2="277.5" y2="270.1" stroke="#231f20" stroke-width="1.25" />
<text x="277.4" y="279.1" font-size="8.6" text-anchor="middle" fill="#231f20" stroke="#231f20" stroke-width="0.22" textLength="8.6" lengthAdjust="spacingAndGlyphs" >10</text>
<line x1="312.5" y1="267.1" x2="312.5" y2="270.1" stroke="#231f20" stroke-width="1.25" />
<text x="312.4" y="279.1" font-size="8.6" text-anchor="middle" fill="#231f20" stroke="#231f20" stroke-width="0.22" textLength="8.6" lengthAdjust="spacingAndGlyphs" >15</text>
<line x1="347.5" y1="267.1" x2="347.5" y2="270.1" stroke="#231f20" stroke-width="1.25" />
<text x="347.4" y="279.1" font-size="8.6" text-anchor="middle" fill="#231f20" stroke="#231f20" stroke-width="0.22" textLength="8.6" lengthAdjust="spacingAndGlyphs" >20</text>
<text x="277.9" y="291.4" font-size="9.4" text-anchor="middle" fill="#231f20" stroke="#231f20" stroke-width="0.22" textLength="97.5" lengthAdjust="spacingAndGlyphs" >Time post-transduction (days)</text>
<path d="M235.4,204.65 C240.07,204.65 254.07,205.9 263.4,204.65 C272.73,203.4 282.07,199.03 291.4,197.16 C300.73,195.28 314.73,194.03 319.4,193.41" fill="none" stroke="#9590cc" stroke-width="1.9" stroke-linejoin="round"/>
<path d="M235.4,204.65 C240.07,204.65 254.07,205.27 263.4,204.65 C272.73,204.03 282.07,201.48 291.4,200.9 C300.73,200.33 314.73,201.16 319.4,201.22" fill="none" stroke="#16694a" stroke-width="1.9" stroke-linejoin="round"/>
<path d="M235.4,204.65 C240.07,204.86 254.07,204.86 263.4,205.9 C272.73,206.94 282.07,209.44 291.4,210.9 C300.73,212.35 314.73,214.02 319.4,214.64" fill="none" stroke="#f8981d" stroke-width="1.9" stroke-linejoin="round"/>
<path d="M235.4,204.65 C240.07,209.23 254.07,224.63 263.4,232.13 C272.73,239.62 282.07,245.24 291.4,249.61 C300.73,253.99 314.73,256.9 319.4,258.36" fill="none" stroke="#4cb848" stroke-width="1.9" stroke-linejoin="round"/>
<path d="M235.4,204.65 C240.07,208.4 254.07,221.93 263.4,227.13 C272.73,232.34 282.07,234.31 291.4,235.88 C300.73,237.44 314.73,236.4 319.4,236.5" fill="none" stroke="#4c2068" stroke-width="1.9" stroke-linejoin="round"/>
<path d="M235.4,204.65 C240.07,208.81 254.07,222.86 263.4,229.63 C272.73,236.4 282.07,241.6 291.4,245.24 C300.73,248.89 314.73,250.45 319.4,251.49" fill="none" stroke="#1b5085" stroke-width="1.9" stroke-linejoin="round"/>
<path d="M235.4,204.65 C240.07,204.65 254.07,204.65 263.4,204.65 C272.73,204.65 282.07,204.65 291.4,204.65 C300.73,204.65 314.73,204.65 319.4,204.65" fill="none" stroke="#c41434" stroke-width="1.9" stroke-linejoin="round"/>
<circle cx="235.4" cy="204.65" r="2.35" fill="#9590cc"/>
<circle cx="263.4" cy="204.65" r="2.35" fill="#9590cc"/>
<circle cx="291.4" cy="197.16" r="2.35" fill="#9590cc"/>
<circle cx="319.4" cy="193.41" r="2.35" fill="#9590cc"/>
<polygon points="235.4,202.3 237.75,204.65 235.4,207 233.05,204.65" fill="#16694a"/>
<polygon points="263.4,202.3 265.75,204.65 263.4,207 261.05,204.65" fill="#16694a"/>
<polygon points="291.4,198.55 293.75,200.9 291.4,203.25 289.05,200.9" fill="#16694a"/>
<polygon points="319.4,198.87 321.75,201.22 319.4,203.57 317.05,201.22" fill="#16694a"/>
<polygon points="235.4,207.47 232.7,202.54 238.1,202.54" fill="#f8981d"/>
<polygon points="263.4,208.72 260.7,203.78 266.1,203.78" fill="#f8981d"/>
<polygon points="291.4,213.72 288.7,208.78 294.1,208.78" fill="#f8981d"/>
<polygon points="319.4,217.46 316.7,212.53 322.1,212.53" fill="#f8981d"/>
<polygon points="235.4,201.83 232.7,206.77 238.1,206.77" fill="#4cb848"/>
<polygon points="263.4,229.31 260.7,234.24 266.1,234.24" fill="#4cb848"/>
<polygon points="291.4,246.79 288.7,251.73 294.1,251.73" fill="#4cb848"/>
<polygon points="319.4,255.54 316.7,260.47 322.1,260.47" fill="#4cb848"/>
<rect x="233.05" y="202.3" width="4.7" height="4.7" fill="#4c2068"/>
<rect x="261.05" y="224.78" width="4.7" height="4.7" fill="#4c2068"/>
<rect x="289.05" y="233.53" width="4.7" height="4.7" fill="#4c2068"/>
<rect x="317.05" y="234.15" width="4.7" height="4.7" fill="#4c2068"/>
<rect x="233.05" y="202.3" width="4.7" height="4.7" fill="#1b5085"/>
<rect x="261.05" y="227.28" width="4.7" height="4.7" fill="#1b5085"/>
<rect x="289.05" y="242.89" width="4.7" height="4.7" fill="#1b5085"/>
<rect x="317.05" y="249.14" width="4.7" height="4.7" fill="#1b5085"/>
<circle cx="235.4" cy="204.65" r="2.35" fill="#c41434"/>
<circle cx="263.4" cy="204.65" r="2.35" fill="#c41434"/>
<circle cx="291.4" cy="204.65" r="2.35" fill="#c41434"/>
<circle cx="319.4" cy="204.65" r="2.35" fill="#c41434"/>
<line x1="291.4" y1="199.65" x2="291.4" y2="194.66" stroke="#9590cc" stroke-width="1.4" />
<line x1="289.2" y1="199.65" x2="293.6" y2="199.65" stroke="#9590cc" stroke-width="1.4" />
<line x1="289.2" y1="194.66" x2="293.6" y2="194.66" stroke="#9590cc" stroke-width="1.4" />
<line x1="319.4" y1="196.53" x2="319.4" y2="190.29" stroke="#9590cc" stroke-width="1.4" />
<line x1="317.2" y1="196.53" x2="321.6" y2="196.53" stroke="#9590cc" stroke-width="1.4" />
<line x1="317.2" y1="190.29" x2="321.6" y2="190.29" stroke="#9590cc" stroke-width="1.4" />
<line x1="291.4" y1="213.39" x2="291.4" y2="207.77" stroke="#f8981d" stroke-width="1.4" />
<line x1="289.2" y1="213.39" x2="293.6" y2="213.39" stroke="#f8981d" stroke-width="1.4" />
<line x1="289.2" y1="207.77" x2="293.6" y2="207.77" stroke="#f8981d" stroke-width="1.4" />
<line x1="319.4" y1="203.4" x2="319.4" y2="199.03" stroke="#16694a" stroke-width="1.4" />
<line x1="317.2" y1="203.4" x2="321.6" y2="203.4" stroke="#16694a" stroke-width="1.4" />
<line x1="317.2" y1="199.03" x2="321.6" y2="199.03" stroke="#16694a" stroke-width="1.4" />
<text x="440.9" y="176.4" font-size="9.6" text-anchor="middle" font-weight="bold" fill="#000" stroke="#000" stroke-width="0.1" textLength="82" lengthAdjust="spacingAndGlyphs" >Competition assay</text>
<line x1="369.5" y1="175" x2="369.5" y2="267.3" stroke="#231f20" stroke-width="1.25" />
<line x1="366.2" y1="266.5" x2="369.2" y2="266.5" stroke="#231f20" stroke-width="1.25" />
<text x="365.2" y="269.45" font-size="8.6" text-anchor="end" fill="#231f20" stroke="#231f20" stroke-width="0.22" textLength="10.3" lengthAdjust="spacingAndGlyphs" >0.0</text>
<line x1="366.2" y1="252.5" x2="369.2" y2="252.5" stroke="#231f20" stroke-width="1.25" />
<text x="365.2" y="254.85" font-size="8.6" text-anchor="end" fill="#231f20" stroke="#231f20" stroke-width="0.22" textLength="10.3" lengthAdjust="spacingAndGlyphs" >0.2</text>
<line x1="366.2" y1="237.5" x2="369.2" y2="237.5" stroke="#231f20" stroke-width="1.25" />
<text x="365.2" y="240.25" font-size="8.6" text-anchor="end" fill="#231f20" stroke="#231f20" stroke-width="0.22" textLength="10.3" lengthAdjust="spacingAndGlyphs" >0.4</text>
<line x1="366.2" y1="223.5" x2="369.2" y2="223.5" stroke="#231f20" stroke-width="1.25" />
<text x="365.2" y="225.65" font-size="8.6" text-anchor="end" fill="#231f20" stroke="#231f20" stroke-width="0.22" textLength="10.3" lengthAdjust="spacingAndGlyphs" >0.6</text>
<line x1="366.2" y1="208.5" x2="369.2" y2="208.5" stroke="#231f20" stroke-width="1.25" />
<text x="365.2" y="211.05" font-size="8.6" text-anchor="end" fill="#231f20" stroke="#231f20" stroke-width="0.22" textLength="10.3" lengthAdjust="spacingAndGlyphs" >0.8</text>
<line x1="366.2" y1="193.5" x2="369.2" y2="193.5" stroke="#231f20" stroke-width="1.25" />
<text x="365.2" y="196.45" font-size="8.6" text-anchor="end" fill="#231f20" stroke="#231f20" stroke-width="0.22" textLength="10.3" lengthAdjust="spacingAndGlyphs" >1.0</text>
<line x1="366.2" y1="179.5" x2="369.2" y2="179.5" stroke="#231f20" stroke-width="1.25" />
<text x="365.2" y="181.85" font-size="8.6" text-anchor="end" fill="#231f20" stroke="#231f20" stroke-width="0.22" textLength="10.3" lengthAdjust="spacingAndGlyphs" >1.2</text>
<line x1="368.7" y1="266.5" x2="513.4" y2="266.5" stroke="#231f20" stroke-width="1.25" />
<line x1="369.5" y1="266.8" x2="369.5" y2="269.8" stroke="#231f20" stroke-width="1.25" />
<text x="369.2" y="279.1" font-size="8.6" text-anchor="middle" fill="#231f20" stroke="#231f20" stroke-width="0.22" textLength="4.4" lengthAdjust="spacingAndGlyphs" >0</text>
<line x1="404.5" y1="266.8" x2="404.5" y2="269.8" stroke="#231f20" stroke-width="1.25" />
<text x="404.2" y="279.1" font-size="8.6" text-anchor="middle" fill="#231f20" stroke="#231f20" stroke-width="0.22" textLength="4.4" lengthAdjust="spacingAndGlyphs" >5</text>
<line x1="439.5" y1="266.8" x2="439.5" y2="269.8" stroke="#231f20" stroke-width="1.25" />
<text x="439.2" y="279.1" font-size="8.6" text-anchor="middle" fill="#231f20" stroke="#231f20" stroke-width="0.22" textLength="8.6" lengthAdjust="spacingAndGlyphs" >10</text>
<line x1="474.5" y1="266.8" x2="474.5" y2="269.8" stroke="#231f20" stroke-width="1.25" />
<text x="474.2" y="279.1" font-size="8.6" text-anchor="middle" fill="#231f20" stroke="#231f20" stroke-width="0.22" textLength="8.6" lengthAdjust="spacingAndGlyphs" >15</text>
<line x1="509.5" y1="266.8" x2="509.5" y2="269.8" stroke="#231f20" stroke-width="1.25" />
<text x="509.2" y="279.1" font-size="8.6" text-anchor="middle" fill="#231f20" stroke="#231f20" stroke-width="0.22" textLength="8.6" lengthAdjust="spacingAndGlyphs" >20</text>
<text x="440" y="291.4" font-size="9.4" text-anchor="middle" fill="#231f20" stroke="#231f20" stroke-width="0.22" textLength="97.5" lengthAdjust="spacingAndGlyphs" >Time post-transduction (days)</text>
<path d="M397.2,193.8 C401.87,194.41 415.87,196.6 425.2,197.45 C434.53,198.3 443.87,198.06 453.2,198.91 C462.53,199.76 476.53,201.95 481.2,202.56" fill="none" stroke="#9590cc" stroke-width="1.9" stroke-linejoin="round"/>
<path d="M397.2,193.8 C401.87,193.92 415.87,194.29 425.2,194.53 C434.53,194.77 443.87,194.53 453.2,195.26 C462.53,195.99 476.53,198.3 481.2,198.91" fill="none" stroke="#f8981d" stroke-width="1.9" stroke-linejoin="round"/>
<path d="M397.2,193.8 C401.87,195.02 415.87,198.3 425.2,201.1 C434.53,203.9 443.87,207.31 453.2,210.59 C462.53,213.88 476.53,219.11 481.2,220.81" fill="none" stroke="#16694a" stroke-width="1.9" stroke-linejoin="round"/>
<path d="M397.2,193.8 C401.87,201.71 415.87,231.15 425.2,241.25 C434.53,251.35 443.87,251.84 453.2,254.39 C462.53,256.94 476.53,256.21 481.2,256.58" fill="none" stroke="#4cb848" stroke-width="1.9" stroke-linejoin="round"/>
<path d="M397.2,193.8 C401.87,200.61 415.87,226.16 425.2,234.68 C434.53,243.2 443.87,241.98 453.2,244.9 C462.53,247.82 476.53,250.98 481.2,252.2" fill="none" stroke="#4c2068" stroke-width="1.9" stroke-linejoin="round"/>
<path d="M397.2,193.8 C401.87,200.49 415.87,223.61 425.2,233.95 C434.53,244.29 443.87,251.84 453.2,255.85 C462.53,259.87 476.53,257.68 481.2,258.04" fill="none" stroke="#1b5085" stroke-width="1.9" stroke-linejoin="round"/>
<path d="M397.2,193.8 C401.87,193.8 415.87,193.8 425.2,193.8 C434.53,193.8 443.87,193.8 453.2,193.8 C462.53,193.8 476.53,193.8 481.2,193.8" fill="none" stroke="#c41434" stroke-width="1.9" stroke-linejoin="round"/>
<circle cx="397.2" cy="193.8" r="2.35" fill="#9590cc"/>
<circle cx="425.2" cy="197.45" r="2.35" fill="#9590cc"/>
<circle cx="453.2" cy="198.91" r="2.35" fill="#9590cc"/>
<circle cx="481.2" cy="202.56" r="2.35" fill="#9590cc"/>
<polygon points="397.2,196.62 394.5,191.69 399.9,191.69" fill="#f8981d"/>
<polygon points="425.2,197.35 422.5,192.42 427.9,192.42" fill="#f8981d"/>
<polygon points="453.2,198.08 450.5,193.15 455.9,193.15" fill="#f8981d"/>
<polygon points="481.2,201.73 478.5,196.8 483.9,196.8" fill="#f8981d"/>
<polygon points="397.2,191.45 399.55,193.8 397.2,196.15 394.85,193.8" fill="#16694a"/>
<polygon points="425.2,198.75 427.55,201.1 425.2,203.45 422.85,201.1" fill="#16694a"/>
<polygon points="453.2,208.24 455.55,210.59 453.2,212.94 450.85,210.59" fill="#16694a"/>
<polygon points="481.2,218.46 483.55,220.81 481.2,223.16 478.85,220.81" fill="#16694a"/>
<polygon points="397.2,190.98 394.5,195.92 399.9,195.92" fill="#4cb848"/>
<polygon points="425.2,238.43 422.5,243.37 427.9,243.37" fill="#4cb848"/>
<polygon points="453.2,251.57 450.5,256.5 455.9,256.5" fill="#4cb848"/>
<polygon points="481.2,253.76 478.5,258.69 483.9,258.69" fill="#4cb848"/>
<rect x="394.85" y="191.45" width="4.7" height="4.7" fill="#4c2068"/>
<rect x="422.85" y="232.33" width="4.7" height="4.7" fill="#4c2068"/>
<rect x="450.85" y="242.55" width="4.7" height="4.7" fill="#4c2068"/>
<rect x="478.85" y="249.85" width="4.7" height="4.7" fill="#4c2068"/>
<rect x="394.85" y="191.45" width="4.7" height="4.7" fill="#1b5085"/>
<rect x="422.85" y="231.6" width="4.7" height="4.7" fill="#1b5085"/>
<rect x="450.85" y="253.5" width="4.7" height="4.7" fill="#1b5085"/>
<rect x="478.85" y="255.69" width="4.7" height="4.7" fill="#1b5085"/>
<circle cx="397.2" cy="193.8" r="2.35" fill="#c41434"/>
<circle cx="425.2" cy="193.8" r="2.35" fill="#c41434"/>
<circle cx="453.2" cy="193.8" r="2.35" fill="#c41434"/>
<circle cx="481.2" cy="193.8" r="2.35" fill="#c41434"/>
<line x1="425.2" y1="239.06" x2="425.2" y2="228.84" stroke="#1b5085" stroke-width="1.4" />
<line x1="423" y1="239.06" x2="427.4" y2="239.06" stroke="#1b5085" stroke-width="1.4" />
<line x1="423" y1="228.84" x2="427.4" y2="228.84" stroke="#1b5085" stroke-width="1.4" />
<line x1="45.5" y1="349" x2="45.5" y2="440.5" stroke="#231f20" stroke-width="1.25" />
<line x1="42.8" y1="440.5" x2="45.8" y2="440.5" stroke="#231f20" stroke-width="1.25" />
<text x="39.6" y="442.7" font-size="8.6" text-anchor="end" fill="#231f20" stroke="#231f20" stroke-width="0.22" textLength="10.4" lengthAdjust="spacingAndGlyphs" >0.0</text>
<line x1="42.8" y1="411.5" x2="45.8" y2="411.5" stroke="#231f20" stroke-width="1.25" />
<text x="39.6" y="414" font-size="8.6" text-anchor="end" fill="#231f20" stroke="#231f20" stroke-width="0.22" textLength="10.4" lengthAdjust="spacingAndGlyphs" >0.5</text>
<line x1="42.8" y1="382.5" x2="45.8" y2="382.5" stroke="#231f20" stroke-width="1.25" />
<text x="39.6" y="385.3" font-size="8.6" text-anchor="end" fill="#231f20" stroke="#231f20" stroke-width="0.22" textLength="10.4" lengthAdjust="spacingAndGlyphs" >1.0</text>
<line x1="42.8" y1="353.5" x2="45.8" y2="353.5" stroke="#231f20" stroke-width="1.25" />
<text x="39.6" y="356.6" font-size="8.6" text-anchor="end" fill="#231f20" stroke="#231f20" stroke-width="0.22" textLength="10.4" lengthAdjust="spacingAndGlyphs" >1.5</text>
<text transform="translate(16 397) rotate(-90)" x="0" y="0" font-size="8.4" text-anchor="middle" fill="#231f20" stroke="#231f20" stroke-width="0.22" textLength="94.5" lengthAdjust="spacingAndGlyphs">Normalized SEMA4A protein</text>
<text transform="translate(24.6 397) rotate(-90)" x="0" y="0" font-size="8.4" text-anchor="middle" fill="#231f20" stroke="#231f20" stroke-width="0.22" textLength="38" lengthAdjust="spacingAndGlyphs">expression</text>
<rect x="50" y="382.6" width="6.9" height="57.4" fill="#3db54a"/>
<line x1="53.5" y1="383.17" x2="53.5" y2="382.03" stroke="#142a14" stroke-width="1" />
<line x1="52.15" y1="382.5" x2="54.75" y2="382.5" stroke="#142a14" stroke-width="1" />
<rect x="58.6" y="387.19" width="6.9" height="52.81" fill="#3db54a"/>
<line x1="62.5" y1="389.49" x2="62.5" y2="384.32" stroke="#142a14" stroke-width="1" />
<line x1="60.75" y1="384.5" x2="63.35" y2="384.5" stroke="#142a14" stroke-width="1" />
<rect x="67.2" y="438.85" width="6.9" height="1.15" fill="#3db54a"/>
<line x1="70.5" y1="440" x2="70.5" y2="437.13" stroke="#142a14" stroke-width="1" />
<line x1="69.35" y1="437.5" x2="71.95" y2="437.5" stroke="#142a14" stroke-width="1" />
<rect x="75.8" y="428.52" width="6.9" height="11.48" fill="#3db54a"/>
<line x1="79.5" y1="431.39" x2="79.5" y2="425.08" stroke="#142a14" stroke-width="1" />
<line x1="77.95" y1="425.5" x2="80.55" y2="425.5" stroke="#142a14" stroke-width="1" />
<rect x="93.4" y="382.6" width="6.9" height="57.4" fill="#3db54a"/>
<line x1="96.5" y1="386.04" x2="96.5" y2="379.16" stroke="#142a14" stroke-width="1" />
<line x1="95.55" y1="379.5" x2="98.15" y2="379.5" stroke="#142a14" stroke-width="1" />
<rect x="102" y="387.19" width="6.9" height="52.81" fill="#3db54a"/>
<line x1="105.5" y1="390.64" x2="105.5" y2="383.17" stroke="#142a14" stroke-width="1" />
<line x1="104.15" y1="383.5" x2="106.75" y2="383.5" stroke="#142a14" stroke-width="1" />
<rect x="110.6" y="438.85" width="6.9" height="1.15" fill="#3db54a"/>
<line x1="114.5" y1="439.43" x2="114.5" y2="438.28" stroke="#142a14" stroke-width="1" />
<line x1="112.75" y1="438.5" x2="115.35" y2="438.5" stroke="#142a14" stroke-width="1" />
<rect x="119.2" y="430.82" width="6.9" height="9.18" fill="#3db54a"/>
<line x1="122.5" y1="431.39" x2="122.5" y2="430.24" stroke="#142a14" stroke-width="1" />
<line x1="121.35" y1="430.5" x2="123.95" y2="430.5" stroke="#142a14" stroke-width="1" />
<rect x="136.4" y="382.6" width="6.9" height="57.4" fill="#3db54a"/>
<line x1="139.5" y1="387.19" x2="139.5" y2="378.01" stroke="#142a14" stroke-width="1" />
<line x1="138.55" y1="378.5" x2="141.15" y2="378.5" stroke="#142a14" stroke-width="1" />
<rect x="145" y="376.86" width="6.9" height="63.14" fill="#3db54a"/>
<line x1="148.5" y1="383.75" x2="148.5" y2="369.97" stroke="#142a14" stroke-width="1" />
<line x1="147.15" y1="369.5" x2="149.75" y2="369.5" stroke="#142a14" stroke-width="1" />
<rect x="153.6" y="429.09" width="6.9" height="10.91" fill="#3db54a"/>
<line x1="157.5" y1="429.67" x2="157.5" y2="428.52" stroke="#142a14" stroke-width="1" />
<line x1="155.75" y1="428.5" x2="158.35" y2="428.5" stroke="#142a14" stroke-width="1" />
<rect x="162.2" y="430.24" width="6.9" height="9.76" fill="#3db54a"/>
<line x1="165.5" y1="430.82" x2="165.5" y2="429.67" stroke="#142a14" stroke-width="1" />
<line x1="164.35" y1="429.5" x2="166.95" y2="429.5" stroke="#142a14" stroke-width="1" />
<line x1="45.3" y1="440.5" x2="170" y2="440.5" stroke="#231f20" stroke-width="1.25" />
<text x="66.4" y="340.6" font-size="8.4" text-anchor="middle" font-weight="bold" fill="#000" stroke="#000" stroke-width="0.1" textLength="25.2" lengthAdjust="spacingAndGlyphs" >MM1.S</text>
<line x1="50.2" y1="343.5" x2="83.6" y2="343.5" stroke="#000" stroke-width="1.1" />
<text x="110.2" y="340.5" font-size="8.4" text-anchor="middle" font-weight="bold" fill="#000" stroke="#000" stroke-width="0.1" textLength="34.4" lengthAdjust="spacingAndGlyphs" >NCI-H929</text>
<line x1="92.9" y1="343.5" x2="126.9" y2="343.5" stroke="#000" stroke-width="1.1" />
<text x="152.6" y="332.6" font-size="8.4" text-anchor="middle" font-weight="bold" fill="#000" stroke="#000" stroke-width="0.1" textLength="34" lengthAdjust="spacingAndGlyphs" >NCI-H929</text>
<text x="152.2" y="340.5" font-size="8.4" text-anchor="middle" font-weight="bold" fill="#000" stroke="#000" stroke-width="0.1" textLength="17" lengthAdjust="spacingAndGlyphs" >Cas9</text>
<line x1="136.4" y1="343.5" x2="170" y2="343.5" stroke="#000" stroke-width="1.1" />
<text transform="translate(56.85 444) rotate(-90)" x="0" y="0" font-size="8.5" text-anchor="end" fill="#231f20" stroke="#231f20" stroke-width="0.12" textLength="9" lengthAdjust="spacingAndGlyphs">UT</text>
<text transform="translate(65.45 444) rotate(-90)" x="0" y="0" font-size="8.5" text-anchor="end" fill="#231f20" stroke="#231f20" stroke-width="0.12" textLength="22" lengthAdjust="spacingAndGlyphs">shLUC</text>
<text transform="translate(74.05 444) rotate(-90)" x="0" y="0" font-size="8.5" text-anchor="end" fill="#231f20" stroke="#231f20" stroke-width="0.12" textLength="54" lengthAdjust="spacingAndGlyphs">shSEMA4A-636</text>
<text transform="translate(82.65 444) rotate(-90)" x="0" y="0" font-size="8.5" text-anchor="end" fill="#231f20" stroke="#231f20" stroke-width="0.12" textLength="54" lengthAdjust="spacingAndGlyphs">shSEMA4A-567</text>
<text transform="translate(100.25 444) rotate(-90)" x="0" y="0" font-size="8.5" text-anchor="end" fill="#231f20" stroke="#231f20" stroke-width="0.12" textLength="9" lengthAdjust="spacingAndGlyphs">UT</text>
<text transform="translate(108.85 444) rotate(-90)" x="0" y="0" font-size="8.5" text-anchor="end" fill="#231f20" stroke="#231f20" stroke-width="0.12" textLength="22" lengthAdjust="spacingAndGlyphs">shLUC</text>
<text transform="translate(117.45 444) rotate(-90)" x="0" y="0" font-size="8.5" text-anchor="end" fill="#231f20" stroke="#231f20" stroke-width="0.12" textLength="54" lengthAdjust="spacingAndGlyphs">shSEMA4A-636</text>
<text transform="translate(126.05 444) rotate(-90)" x="0" y="0" font-size="8.5" text-anchor="end" fill="#231f20" stroke="#231f20" stroke-width="0.12" textLength="54" lengthAdjust="spacingAndGlyphs">shSEMA4A-567</text>
<text transform="translate(143.25 444) rotate(-90)" x="0" y="0" font-size="8.5" text-anchor="end" fill="#231f20" stroke="#231f20" stroke-width="0.12" textLength="9" lengthAdjust="spacingAndGlyphs">UT</text>
<text transform="translate(151.85 444) rotate(-90)" x="0" y="0" font-size="8.5" text-anchor="end" fill="#231f20" stroke="#231f20" stroke-width="0.12" textLength="29" lengthAdjust="spacingAndGlyphs">sgNone</text>
<text transform="translate(160.45 444) rotate(-90)" x="0" y="0" font-size="8.5" text-anchor="end" fill="#231f20" stroke="#231f20" stroke-width="0.12" textLength="71" lengthAdjust="spacingAndGlyphs">sgSEMA4A-exon 6a</text>
<text transform="translate(169.05 444) rotate(-90)" x="0" y="0" font-size="8.5" text-anchor="end" fill="#231f20" stroke="#231f20" stroke-width="0.12" textLength="66.5" lengthAdjust="spacingAndGlyphs">sgSEMA4A-exon6b</text>
<line x1="204.5" y1="348.2" x2="204.5" y2="440.1" stroke="#231f20" stroke-width="1.25" />
<line x1="201.5" y1="439.5" x2="204.5" y2="439.5" stroke="#231f20" stroke-width="1.25" />
<text x="199.5" y="442.3" font-size="8.6" text-anchor="end" fill="#231f20" stroke="#231f20" stroke-width="0.22" textLength="4.6" lengthAdjust="spacingAndGlyphs" >0</text>
<line x1="201.5" y1="425.5" x2="204.5" y2="425.5" stroke="#231f20" stroke-width="1.25" />
<text x="199.5" y="427.9" font-size="8.6" text-anchor="end" fill="#231f20" stroke="#231f20" stroke-width="0.22" textLength="9" lengthAdjust="spacingAndGlyphs" >20</text>
<line x1="201.5" y1="410.5" x2="204.5" y2="410.5" stroke="#231f20" stroke-width="1.25" />
<text x="199.5" y="413.5" font-size="8.6" text-anchor="end" fill="#231f20" stroke="#231f20" stroke-width="0.22" textLength="9" lengthAdjust="spacingAndGlyphs" >40</text>
<line x1="201.5" y1="396.5" x2="204.5" y2="396.5" stroke="#231f20" stroke-width="1.25" />
<text x="199.5" y="399.1" font-size="8.6" text-anchor="end" fill="#231f20" stroke="#231f20" stroke-width="0.22" textLength="9" lengthAdjust="spacingAndGlyphs" >60</text>
<line x1="201.5" y1="382.5" x2="204.5" y2="382.5" stroke="#231f20" stroke-width="1.25" />
<text x="199.5" y="384.7" font-size="8.6" text-anchor="end" fill="#231f20" stroke="#231f20" stroke-width="0.22" textLength="9" lengthAdjust="spacingAndGlyphs" >80</text>
<line x1="201.5" y1="367.5" x2="204.5" y2="367.5" stroke="#231f20" stroke-width="1.25" />
<text x="199.5" y="370.3" font-size="8.6" text-anchor="end" fill="#231f20" stroke="#231f20" stroke-width="0.22" textLength="13.6" lengthAdjust="spacingAndGlyphs" >100</text>
<line x1="201.5" y1="353.5" x2="204.5" y2="353.5" stroke="#231f20" stroke-width="1.25" />
<text x="199.5" y="355.9" font-size="8.6" text-anchor="end" fill="#231f20" stroke="#231f20" stroke-width="0.22" textLength="13.6" lengthAdjust="spacingAndGlyphs" >120</text>
<text transform="translate(184.3 396.5) rotate(-90)" x="0" y="0" font-size="8.4" text-anchor="middle" fill="#231f20" stroke="#231f20" stroke-width="0.22" textLength="83.3" lengthAdjust="spacingAndGlyphs">Percent of the population</text>
<rect x="220.4" y="316.0" width="4.6" height="4.7" fill="#c41434"/>
<text x="227" y="320.7" font-size="8.4" text-anchor="start" fill="#2a2a2a" stroke="#2a2a2a" stroke-width="0.22" textLength="17.6" lengthAdjust="spacingAndGlyphs" >Dead</text>
<rect x="248.7" y="316.0" width="4.6" height="4.7" fill="#1b5a96"/>
<text x="256.3" y="320.7" font-size="8.4" text-anchor="start" fill="#2a2a2a" stroke="#2a2a2a" stroke-width="0.22" textLength="33.3" lengthAdjust="spacingAndGlyphs" >Apoptotic</text>
<rect x="293.8" y="316.0" width="4.6" height="4.7" fill="#3db54a"/>
<text x="301.5" y="320.7" font-size="8.4" text-anchor="start" fill="#2a2a2a" stroke="#2a2a2a" stroke-width="0.22" textLength="16.4" lengthAdjust="spacingAndGlyphs" >Alive</text>
<rect x="208.5" y="376.24" width="7" height="63.36" fill="#3db54a"/>
<rect x="208.5" y="369.98" width="7" height="6.26" fill="#1b5a96"/>
<rect x="208.5" y="368.32" width="7" height="1.66" fill="#c41434"/>
<line x1="212" y1="374.44" x2="212" y2="378.04" stroke="#2a2a2a" stroke-width="0.7"/>
<line x1="211" y1="376.24" x2="213" y2="376.24" stroke="#1a1a1a" stroke-width="0.9"/>
<line x1="212" y1="368.9" x2="212" y2="371.06" stroke="#2a2a2a" stroke-width="0.7"/>
<line x1="211" y1="369.98" x2="213" y2="369.98" stroke="#1a1a1a" stroke-width="0.9"/>
<line x1="212" y1="367.6" x2="212" y2="369.04" stroke="#2a2a2a" stroke-width="0.7"/>
<line x1="211" y1="368.32" x2="213" y2="368.32" stroke="#1a1a1a" stroke-width="0.9"/>
<rect x="217.1" y="379.84" width="7" height="59.76" fill="#3db54a"/>
<rect x="217.1" y="372.06" width="7" height="7.78" fill="#1b5a96"/>
<rect x="217.1" y="368.32" width="7" height="3.74" fill="#c41434"/>
<line x1="220.6" y1="378.04" x2="220.6" y2="381.64" stroke="#2a2a2a" stroke-width="0.7"/>
<line x1="219.6" y1="379.84" x2="221.6" y2="379.84" stroke="#1a1a1a" stroke-width="0.9"/>
<line x1="220.6" y1="370.98" x2="220.6" y2="373.14" stroke="#2a2a2a" stroke-width="0.7"/>
<line x1="219.6" y1="372.06" x2="221.6" y2="372.06" stroke="#1a1a1a" stroke-width="0.9"/>
<line x1="220.6" y1="367.6" x2="220.6" y2="369.04" stroke="#2a2a2a" stroke-width="0.7"/>
<line x1="219.6" y1="368.32" x2="221.6" y2="368.32" stroke="#1a1a1a" stroke-width="0.9"/>
<rect x="225.7" y="400.72" width="7" height="38.88" fill="#3db54a"/>
<rect x="225.7" y="382" width="7" height="18.72" fill="#1b5a96"/>
<rect x="225.7" y="368.82" width="7" height="13.18" fill="#c41434"/>
<line x1="229.2" y1="365.58" x2="229.2" y2="368.82" stroke="#777" stroke-width="0.8"/>
<line x1="228.2" y1="365.58" x2="230.2" y2="365.58" stroke="#777" stroke-width="0.8"/>
<line x1="229.2" y1="397.12" x2="229.2" y2="404.32" stroke="#2a2a2a" stroke-width="0.7"/>
<line x1="228.2" y1="400.72" x2="230.2" y2="400.72" stroke="#1a1a1a" stroke-width="0.9"/>
<line x1="229.2" y1="379.12" x2="229.2" y2="384.88" stroke="#2a2a2a" stroke-width="0.7"/>
<line x1="228.2" y1="382" x2="230.2" y2="382" stroke="#1a1a1a" stroke-width="0.9"/>
<line x1="229.2" y1="368.1" x2="229.2" y2="369.54" stroke="#2a2a2a" stroke-width="0.7"/>
<line x1="228.2" y1="368.82" x2="230.2" y2="368.82" stroke="#1a1a1a" stroke-width="0.9"/>
<rect x="234.3" y="402.16" width="7" height="37.44" fill="#3db54a"/>
<rect x="234.3" y="384.3" width="7" height="17.86" fill="#1b5a96"/>
<rect x="234.3" y="368.82" width="7" height="15.48" fill="#c41434"/>
<line x1="237.8" y1="364" x2="237.8" y2="368.82" stroke="#777" stroke-width="0.8"/>
<line x1="236.8" y1="364" x2="238.8" y2="364" stroke="#777" stroke-width="0.8"/>
<line x1="237.8" y1="397.84" x2="237.8" y2="406.48" stroke="#2a2a2a" stroke-width="0.7"/>
<line x1="236.8" y1="402.16" x2="238.8" y2="402.16" stroke="#1a1a1a" stroke-width="0.9"/>
<line x1="237.8" y1="380.7" x2="237.8" y2="387.9" stroke="#2a2a2a" stroke-width="0.7"/>
<line x1="236.8" y1="384.3" x2="238.8" y2="384.3" stroke="#1a1a1a" stroke-width="0.9"/>
<line x1="237.8" y1="368.1" x2="237.8" y2="369.54" stroke="#2a2a2a" stroke-width="0.7"/>
<line x1="236.8" y1="368.82" x2="238.8" y2="368.82" stroke="#1a1a1a" stroke-width="0.9"/>
<rect x="252.4" y="385.31" width="7" height="54.29" fill="#3db54a"/>
<rect x="252.4" y="374.58" width="7" height="10.73" fill="#1b5a96"/>
<rect x="252.4" y="368.32" width="7" height="6.26" fill="#c41434"/>
<line x1="255.9" y1="383.51" x2="255.9" y2="387.11" stroke="#2a2a2a" stroke-width="0.7"/>
<line x1="254.9" y1="385.31" x2="256.9" y2="385.31" stroke="#1a1a1a" stroke-width="0.9"/>
<line x1="255.9" y1="373.5" x2="255.9" y2="375.66" stroke="#2a2a2a" stroke-width="0.7"/>
<line x1="254.9" y1="374.58" x2="256.9" y2="374.58" stroke="#1a1a1a" stroke-width="0.9"/>
<line x1="255.9" y1="367.6" x2="255.9" y2="369.04" stroke="#2a2a2a" stroke-width="0.7"/>
<line x1="254.9" y1="368.32" x2="256.9" y2="368.32" stroke="#1a1a1a" stroke-width="0.9"/>
<rect x="261" y="387.62" width="7" height="51.98" fill="#3db54a"/>
<rect x="261" y="374.8" width="7" height="12.82" fill="#1b5a96"/>
<rect x="261" y="368.32" width="7" height="6.48" fill="#c41434"/>
<line x1="264.5" y1="385.82" x2="264.5" y2="389.42" stroke="#2a2a2a" stroke-width="0.7"/>
<line x1="263.5" y1="387.62" x2="265.5" y2="387.62" stroke="#1a1a1a" stroke-width="0.9"/>
<line x1="264.5" y1="373.72" x2="264.5" y2="375.88" stroke="#2a2a2a" stroke-width="0.7"/>
<line x1="263.5" y1="374.8" x2="265.5" y2="374.8" stroke="#1a1a1a" stroke-width="0.9"/>
<line x1="264.5" y1="367.6" x2="264.5" y2="369.04" stroke="#2a2a2a" stroke-width="0.7"/>
<line x1="263.5" y1="368.32" x2="265.5" y2="368.32" stroke="#1a1a1a" stroke-width="0.9"/>
<rect x="269.6" y="398.99" width="7" height="40.61" fill="#3db54a"/>
<rect x="269.6" y="376.24" width="7" height="22.75" fill="#1b5a96"/>
<rect x="269.6" y="368.32" width="7" height="7.92" fill="#c41434"/>
<line x1="273.1" y1="397.19" x2="273.1" y2="400.79" stroke="#2a2a2a" stroke-width="0.7"/>
<line x1="272.1" y1="398.99" x2="274.1" y2="398.99" stroke="#1a1a1a" stroke-width="0.9"/>
<line x1="273.1" y1="375.16" x2="273.1" y2="377.32" stroke="#2a2a2a" stroke-width="0.7"/>
<line x1="272.1" y1="376.24" x2="274.1" y2="376.24" stroke="#1a1a1a" stroke-width="0.9"/>
<line x1="273.1" y1="367.6" x2="273.1" y2="369.04" stroke="#2a2a2a" stroke-width="0.7"/>
<line x1="272.1" y1="368.32" x2="274.1" y2="368.32" stroke="#1a1a1a" stroke-width="0.9"/>
<rect x="278.2" y="396.83" width="7" height="42.77" fill="#3db54a"/>
<rect x="278.2" y="379.98" width="7" height="16.85" fill="#1b5a96"/>
<rect x="278.2" y="368.32" width="7" height="11.66" fill="#c41434"/>
<line x1="281.7" y1="395.03" x2="281.7" y2="398.63" stroke="#2a2a2a" stroke-width="0.7"/>
<line x1="280.7" y1="396.83" x2="282.7" y2="396.83" stroke="#1a1a1a" stroke-width="0.9"/>
<line x1="281.7" y1="378.9" x2="281.7" y2="381.06" stroke="#2a2a2a" stroke-width="0.7"/>
<line x1="280.7" y1="379.98" x2="282.7" y2="379.98" stroke="#1a1a1a" stroke-width="0.9"/>
<line x1="281.7" y1="367.6" x2="281.7" y2="369.04" stroke="#2a2a2a" stroke-width="0.7"/>
<line x1="280.7" y1="368.32" x2="282.7" y2="368.32" stroke="#1a1a1a" stroke-width="0.9"/>
<rect x="295.2" y="389.2" width="7" height="50.4" fill="#3db54a"/>
<rect x="295.2" y="374.22" width="7" height="14.98" fill="#1b5a96"/>
<rect x="295.2" y="368.32" width="7" height="5.9" fill="#c41434"/>
<line x1="298.7" y1="387.4" x2="298.7" y2="391" stroke="#2a2a2a" stroke-width="0.7"/>
<line x1="297.7" y1="389.2" x2="299.7" y2="389.2" stroke="#1a1a1a" stroke-width="0.9"/>
<line x1="298.7" y1="373.14" x2="298.7" y2="375.3" stroke="#2a2a2a" stroke-width="0.7"/>
<line x1="297.7" y1="374.22" x2="299.7" y2="374.22" stroke="#1a1a1a" stroke-width="0.9"/>
<line x1="298.7" y1="367.6" x2="298.7" y2="369.04" stroke="#2a2a2a" stroke-width="0.7"/>
<line x1="297.7" y1="368.32" x2="299.7" y2="368.32" stroke="#1a1a1a" stroke-width="0.9"/>
<rect x="303.8" y="394.96" width="7" height="44.64" fill="#3db54a"/>
<rect x="303.8" y="374.22" width="7" height="20.74" fill="#1b5a96"/>
<rect x="303.8" y="368.32" width="7" height="5.9" fill="#c41434"/>
<line x1="307.3" y1="393.16" x2="307.3" y2="396.76" stroke="#2a2a2a" stroke-width="0.7"/>
<line x1="306.3" y1="394.96" x2="308.3" y2="394.96" stroke="#1a1a1a" stroke-width="0.9"/>
<line x1="307.3" y1="373.14" x2="307.3" y2="375.3" stroke="#2a2a2a" stroke-width="0.7"/>
<line x1="306.3" y1="374.22" x2="308.3" y2="374.22" stroke="#1a1a1a" stroke-width="0.9"/>
<line x1="307.3" y1="367.6" x2="307.3" y2="369.04" stroke="#2a2a2a" stroke-width="0.7"/>
<line x1="306.3" y1="368.32" x2="308.3" y2="368.32" stroke="#1a1a1a" stroke-width="0.9"/>
<rect x="312.4" y="406.84" width="7" height="32.76" fill="#3db54a"/>
<rect x="312.4" y="376.96" width="7" height="29.88" fill="#1b5a96"/>
<rect x="312.4" y="368.32" width="7" height="8.64" fill="#c41434"/>
<line x1="315.9" y1="405.04" x2="315.9" y2="408.64" stroke="#2a2a2a" stroke-width="0.7"/>
<line x1="314.9" y1="406.84" x2="316.9" y2="406.84" stroke="#1a1a1a" stroke-width="0.9"/>
<line x1="315.9" y1="375.88" x2="315.9" y2="378.04" stroke="#2a2a2a" stroke-width="0.7"/>
<line x1="314.9" y1="376.96" x2="316.9" y2="376.96" stroke="#1a1a1a" stroke-width="0.9"/>
<line x1="315.9" y1="367.6" x2="315.9" y2="369.04" stroke="#2a2a2a" stroke-width="0.7"/>
<line x1="314.9" y1="368.32" x2="316.9" y2="368.32" stroke="#1a1a1a" stroke-width="0.9"/>
<rect x="321" y="403.02" width="7" height="36.58" fill="#3db54a"/>
<rect x="321" y="376.24" width="7" height="26.78" fill="#1b5a96"/>
<rect x="321" y="368.32" width="7" height="7.92" fill="#c41434"/>
<line x1="324.5" y1="401.22" x2="324.5" y2="404.82" stroke="#2a2a2a" stroke-width="0.7"/>
<line x1="323.5" y1="403.02" x2="325.5" y2="403.02" stroke="#1a1a1a" stroke-width="0.9"/>
<line x1="324.5" y1="375.16" x2="324.5" y2="377.32" stroke="#2a2a2a" stroke-width="0.7"/>
<line x1="323.5" y1="376.24" x2="325.5" y2="376.24" stroke="#1a1a1a" stroke-width="0.9"/>
<line x1="324.5" y1="367.6" x2="324.5" y2="369.04" stroke="#2a2a2a" stroke-width="0.7"/>
<line x1="323.5" y1="368.32" x2="325.5" y2="368.32" stroke="#1a1a1a" stroke-width="0.9"/>
<line x1="204" y1="439.5" x2="332.3" y2="439.5" stroke="#231f20" stroke-width="1.25" />
<text x="225.8" y="340.6" font-size="8.4" text-anchor="middle" font-weight="bold" fill="#000" stroke="#000" stroke-width="0.1" textLength="24.9" lengthAdjust="spacingAndGlyphs" >MM1.S</text>
<line x1="208.5" y1="343.5" x2="242.1" y2="343.5" stroke="#000" stroke-width="1.1" />
<text x="269.6" y="340.5" font-size="8.4" text-anchor="middle" font-weight="bold" fill="#000" stroke="#000" stroke-width="0.1" textLength="34.2" lengthAdjust="spacingAndGlyphs" >NCI-H929</text>
<line x1="252" y1="343.5" x2="286.2" y2="343.5" stroke="#000" stroke-width="1.1" />
<text x="309.5" y="332.7" font-size="8.4" text-anchor="middle" font-weight="bold" fill="#000" stroke="#000" stroke-width="0.1" textLength="34.1" lengthAdjust="spacingAndGlyphs" >NCI-H929</text>
<text x="309.9" y="340.5" font-size="8.4" text-anchor="middle" font-weight="bold" fill="#000" stroke="#000" stroke-width="0.1" textLength="17" lengthAdjust="spacingAndGlyphs" >Cas9</text>
<line x1="294.8" y1="343.5" x2="328.5" y2="343.5" stroke="#000" stroke-width="1.1" />
<path d="M211.7,363.7 L211.7,361.5 L220.6,361.5 L220.6,363.7" fill="none" stroke="#555" stroke-width="0.8"/>
<text x="216.15" y="360.5" font-size="6" text-anchor="middle" fill="#555" stroke="#555" stroke-width="0.22" textLength="7.2" lengthAdjust="spacingAndGlyphs" >NS</text>
<path d="M211.7,357.5 L211.7,355.3 L229.2,355.3 L229.2,357.5" fill="none" stroke="#555" stroke-width="0.8"/>
<text x="220.45" y="356.7" font-size="7.6" text-anchor="middle" fill="#444" stroke="#444" stroke-width="0.22" textLength="8.25" lengthAdjust="spacingAndGlyphs" >***</text>
<path d="M211.7,352 L211.7,349.8 L237.8,349.8 L237.8,352" fill="none" stroke="#555" stroke-width="0.8"/>
<text x="224.75" y="351.2" font-size="7.6" text-anchor="middle" fill="#444" stroke="#444" stroke-width="0.22" textLength="11" lengthAdjust="spacingAndGlyphs" >****</text>
<path d="M255.7,363.7 L255.7,361.5 L264.6,361.5 L264.6,363.7" fill="none" stroke="#555" stroke-width="0.8"/>
<text x="260.15" y="360.5" font-size="6" text-anchor="middle" fill="#555" stroke="#555" stroke-width="0.22" textLength="7.2" lengthAdjust="spacingAndGlyphs" >NS</text>
<path d="M255.7,357.5 L255.7,355.3 L273.2,355.3 L273.2,357.5" fill="none" stroke="#555" stroke-width="0.8"/>
<text x="264.45" y="356.7" font-size="7.6" text-anchor="middle" fill="#444" stroke="#444" stroke-width="0.22" textLength="11" lengthAdjust="spacingAndGlyphs" >****</text>
<path d="M255.7,352 L255.7,349.8 L281.8,349.8 L281.8,352" fill="none" stroke="#555" stroke-width="0.8"/>
<text x="268.75" y="351.2" font-size="7.6" text-anchor="middle" fill="#444" stroke="#444" stroke-width="0.22" textLength="11" lengthAdjust="spacingAndGlyphs" >****</text>
<path d="M298.4,363.7 L298.4,361.5 L307.3,361.5 L307.3,363.7" fill="none" stroke="#555" stroke-width="0.8"/>
<text x="302.85" y="362.9" font-size="7.6" text-anchor="middle" fill="#444" stroke="#444" stroke-width="0.22" textLength="5.5" lengthAdjust="spacingAndGlyphs" >**</text>
<path d="M298.4,357.5 L298.4,355.3 L315.9,355.3 L315.9,357.5" fill="none" stroke="#555" stroke-width="0.8"/>
<text x="307.15" y="356.7" font-size="7.6" text-anchor="middle" fill="#444" stroke="#444" stroke-width="0.22" textLength="11" lengthAdjust="spacingAndGlyphs" >****</text>
<path d="M298.4,352 L298.4,349.8 L324.5,349.8 L324.5,352" fill="none" stroke="#555" stroke-width="0.8"/>
<text x="311.45" y="351.2" font-size="7.6" text-anchor="middle" fill="#444" stroke="#444" stroke-width="0.22" textLength="11" lengthAdjust="spacingAndGlyphs" >****</text>
<text transform="translate(215.4 444) rotate(-90)" x="0" y="0" font-size="8.5" text-anchor="end" fill="#231f20" stroke="#231f20" stroke-width="0.12" textLength="9" lengthAdjust="spacingAndGlyphs">UT</text>
<text transform="translate(224 444) rotate(-90)" x="0" y="0" font-size="8.5" text-anchor="end" fill="#231f20" stroke="#231f20" stroke-width="0.12" textLength="22" lengthAdjust="spacingAndGlyphs">shLUC</text>
<text transform="translate(232.6 444) rotate(-90)" x="0" y="0" font-size="8.5" text-anchor="end" fill="#231f20" stroke="#231f20" stroke-width="0.12" textLength="54" lengthAdjust="spacingAndGlyphs">shSEMA4A-636</text>
<text transform="translate(241.2 444) rotate(-90)" x="0" y="0" font-size="8.5" text-anchor="end" fill="#231f20" stroke="#231f20" stroke-width="0.12" textLength="54" lengthAdjust="spacingAndGlyphs">shSEMA4A-567</text>
<text transform="translate(259.3 444) rotate(-90)" x="0" y="0" font-size="8.5" text-anchor="end" fill="#231f20" stroke="#231f20" stroke-width="0.12" textLength="9" lengthAdjust="spacingAndGlyphs">UT</text>
<text transform="translate(267.9 444) rotate(-90)" x="0" y="0" font-size="8.5" text-anchor="end" fill="#231f20" stroke="#231f20" stroke-width="0.12" textLength="22" lengthAdjust="spacingAndGlyphs">shLUC</text>
<text transform="translate(276.5 444) rotate(-90)" x="0" y="0" font-size="8.5" text-anchor="end" fill="#231f20" stroke="#231f20" stroke-width="0.12" textLength="54" lengthAdjust="spacingAndGlyphs">shSEMA4A-636</text>
<text transform="translate(285.1 444) rotate(-90)" x="0" y="0" font-size="8.5" text-anchor="end" fill="#231f20" stroke="#231f20" stroke-width="0.12" textLength="54" lengthAdjust="spacingAndGlyphs">shSEMA4A-567</text>
<text transform="translate(302.1 444) rotate(-90)" x="0" y="0" font-size="8.5" text-anchor="end" fill="#231f20" stroke="#231f20" stroke-width="0.12" textLength="9" lengthAdjust="spacingAndGlyphs">UT</text>
<text transform="translate(310.7 444) rotate(-90)" x="0" y="0" font-size="8.5" text-anchor="end" fill="#231f20" stroke="#231f20" stroke-width="0.12" textLength="29" lengthAdjust="spacingAndGlyphs">sgNone</text>
<text transform="translate(319.3 444) rotate(-90)" x="0" y="0" font-size="8.5" text-anchor="end" fill="#231f20" stroke="#231f20" stroke-width="0.12" textLength="71" lengthAdjust="spacingAndGlyphs">sgSEMA4A-exon 6a</text>
<text transform="translate(327.9 444) rotate(-90)" x="0" y="0" font-size="8.5" text-anchor="end" fill="#231f20" stroke="#231f20" stroke-width="0.12" textLength="66.5" lengthAdjust="spacingAndGlyphs">sgSEMA4A-exon6b</text>
<text x="445" y="351.2" font-size="9.6" text-anchor="middle" font-weight="bold" fill="#000" stroke="#000" stroke-width="0.1" textLength="81.3" lengthAdjust="spacingAndGlyphs" >Competition assay</text>
<line x1="376.5" y1="350" x2="376.5" y2="440.5" stroke="#231f20" stroke-width="1.25" />
<line x1="373.7" y1="440.5" x2="376.7" y2="440.5" stroke="#231f20" stroke-width="1.25" />
<text x="371.8" y="442.7" font-size="8.6" text-anchor="end" fill="#231f20" stroke="#231f20" stroke-width="0.22" textLength="10.6" lengthAdjust="spacingAndGlyphs" >0.0</text>
<line x1="373.7" y1="411.5" x2="376.7" y2="411.5" stroke="#231f20" stroke-width="1.25" />
<text x="371.8" y="413.9" font-size="8.6" text-anchor="end" fill="#231f20" stroke="#231f20" stroke-width="0.22" textLength="10.6" lengthAdjust="spacingAndGlyphs" >0.5</text>
<line x1="373.7" y1="382.5" x2="376.7" y2="382.5" stroke="#231f20" stroke-width="1.25" />
<text x="371.8" y="385.1" font-size="8.6" text-anchor="end" fill="#231f20" stroke="#231f20" stroke-width="0.22" textLength="10.6" lengthAdjust="spacingAndGlyphs" >1.0</text>
<line x1="373.7" y1="353.5" x2="376.7" y2="353.5" stroke="#231f20" stroke-width="1.25" />
<text x="371.8" y="356.3" font-size="8.6" text-anchor="end" fill="#231f20" stroke="#231f20" stroke-width="0.22" textLength="10.6" lengthAdjust="spacingAndGlyphs" >1.5</text>
<line x1="376.2" y1="440.5" x2="510.4" y2="440.5" stroke="#231f20" stroke-width="1.25" />
<line x1="376.5" y1="440" x2="376.5" y2="443" stroke="#231f20" stroke-width="1.25" />
<text x="377" y="451.1" font-size="8.6" text-anchor="middle" fill="#231f20" stroke="#231f20" stroke-width="0.22" textLength="4.4" lengthAdjust="spacingAndGlyphs" >0</text>
<line x1="420.5" y1="440" x2="420.5" y2="443" stroke="#231f20" stroke-width="1.25" />
<text x="420.8" y="451.1" font-size="8.6" text-anchor="middle" fill="#231f20" stroke="#231f20" stroke-width="0.22" textLength="4.4" lengthAdjust="spacingAndGlyphs" >5</text>
<line x1="464.5" y1="440" x2="464.5" y2="443" stroke="#231f20" stroke-width="1.25" />
<text x="464.6" y="451.1" font-size="8.6" text-anchor="middle" fill="#231f20" stroke="#231f20" stroke-width="0.22" textLength="8.8" lengthAdjust="spacingAndGlyphs" >10</text>
<line x1="508.5" y1="440" x2="508.5" y2="443" stroke="#231f20" stroke-width="1.25" />
<text x="508.4" y="451.1" font-size="8.6" text-anchor="middle" fill="#231f20" stroke="#231f20" stroke-width="0.22" textLength="8.8" lengthAdjust="spacingAndGlyphs" >15</text>
<text x="443.5" y="463.9" font-size="9.4" text-anchor="middle" fill="#231f20" stroke="#231f20" stroke-width="0.22" textLength="97" lengthAdjust="spacingAndGlyphs" >Time post transduction (days)</text>
<text transform="translate(344.6 398.4) rotate(-90)" x="0" y="0" font-size="8.4" text-anchor="middle" fill="#231f20" stroke="#231f20" stroke-width="0.22" textLength="75" lengthAdjust="spacingAndGlyphs">Proportion of BFP+ cells</text>
<text transform="translate(355.2 397) rotate(-90)" x="0" y="0" font-size="8.4" text-anchor="middle" fill="#231f20" stroke="#231f20" stroke-width="0.22" textLength="51" lengthAdjust="spacingAndGlyphs">relative to day 4</text>
<path d="M411.74,382.4 C416.12,382.4 429.26,382.4 438.02,382.4 C446.78,382.4 454.08,382.4 464.3,382.4 C474.52,382.4 493.5,382.4 499.34,382.4" fill="none" stroke="#5cc05a" stroke-width="1.3"/>
<path d="M411.74,382.4 C416.12,382.4 429.26,382.4 438.02,382.4 C446.78,382.4 454.08,382.4 464.3,382.4 C474.52,382.4 493.5,382.4 499.34,382.4" fill="none" stroke="#f6a623" stroke-width="1.3"/>
<path d="M411.74,382.4 C416.12,382.4 429.26,382.4 438.02,382.4 C446.78,382.4 454.08,382.4 464.3,382.4 C474.52,382.4 493.5,382.4 499.34,382.4" fill="none" stroke="#c8102e" stroke-width="1.3"/>
<path d="M411.74,382.4 C416.12,385.18 429.26,395.07 438.02,399.1 C446.78,403.14 454.08,404.1 464.3,406.59 C474.52,409.09 493.5,412.83 499.34,414.08" fill="none" stroke="#1d6f5a" stroke-width="1.7"/>
<path d="M411.74,382.4 C416.12,384.61 429.26,391.42 438.02,395.65 C446.78,399.87 454.08,404.77 464.3,407.74 C474.52,410.72 493.5,412.54 499.34,413.5" fill="none" stroke="#5b2d8e" stroke-width="1.7"/>
<path d="M411.74,382.4 C416.12,384.42 429.26,390.85 438.02,394.5 C446.78,398.14 454.08,401.5 464.3,404.29 C474.52,407.07 493.5,410.05 499.34,411.2" fill="none" stroke="#1d4f8c" stroke-width="1.7"/>
<rect x="435.32" y="379.7" width="5.4" height="5.4" fill="#f6a623"/>
<rect x="461.6" y="379.7" width="5.4" height="5.4" fill="#f6a623"/>
<rect x="496.64" y="379.7" width="5.4" height="5.4" fill="#f6a623"/>
<circle cx="411.74" cy="382.4" r="2.5" fill="#c8102e"/>
<circle cx="438.02" cy="382.4" r="1.9" fill="#c8102e"/>
<circle cx="464.3" cy="382.4" r="1.9" fill="#c8102e"/>
<circle cx="499.34" cy="382.4" r="1.9" fill="#c8102e"/>
<rect x="435.82" y="396.9" width="4.4" height="4.4" fill="#1d6f5a"/>
<rect x="462.1" y="404.39" width="4.4" height="4.4" fill="#1d6f5a"/>
<rect x="497.14" y="411.88" width="4.4" height="4.4" fill="#1d6f5a"/>
<rect x="435.82" y="393.45" width="4.4" height="4.4" fill="#5b2d8e"/>
<rect x="462.1" y="405.54" width="4.4" height="4.4" fill="#5b2d8e"/>
<rect x="497.14" y="411.3" width="4.4" height="4.4" fill="#5b2d8e"/>
<circle cx="438.02" cy="394.5" r="2.3" fill="#1d4f8c"/>
<circle cx="464.3" cy="404.29" r="2.3" fill="#1d4f8c"/>
<circle cx="499.34" cy="411.2" r="2.3" fill="#1d4f8c"/>
<circle cx="411.74" cy="382.4" r="2.5" fill="#c8102e"/>
<line x1="438.02" y1="398.53" x2="438.02" y2="391.62" stroke="#5b2d8e" stroke-width="1.3" />
<line x1="436.22" y1="398.5" x2="439.82" y2="398.5" stroke="#5b2d8e" stroke-width="1.2" />
<line x1="436.22" y1="391.5" x2="439.82" y2="391.5" stroke="#5b2d8e" stroke-width="1.2" />
<line x1="438.02" y1="401.98" x2="438.02" y2="396.22" stroke="#1d6f5a" stroke-width="1.3" />
<line x1="436.22" y1="401.5" x2="439.82" y2="401.5" stroke="#1d6f5a" stroke-width="1.2" />
<line x1="436.22" y1="396.5" x2="439.82" y2="396.5" stroke="#1d6f5a" stroke-width="1.2" />
<line x1="464.3" y1="407.17" x2="464.3" y2="401.98" stroke="#1d4f8c" stroke-width="1.3" />
<line x1="462.5" y1="407.5" x2="466.1" y2="407.5" stroke="#1d4f8c" stroke-width="1.2" />
<line x1="462.5" y1="401.5" x2="466.1" y2="401.5" stroke="#1d4f8c" stroke-width="1.2" />
<line x1="464.3" y1="410.62" x2="464.3" y2="405.44" stroke="#5b2d8e" stroke-width="1.3" />
<line x1="462.5" y1="410.5" x2="466.1" y2="410.5" stroke="#5b2d8e" stroke-width="1.2" />
<line x1="462.5" y1="405.5" x2="466.1" y2="405.5" stroke="#5b2d8e" stroke-width="1.2" />
<line x1="499.34" y1="414.66" x2="499.34" y2="407.74" stroke="#1d4f8c" stroke-width="1.3" />
<line x1="497.54" y1="414.5" x2="501.14" y2="414.5" stroke="#1d4f8c" stroke-width="1.2" />
<line x1="497.54" y1="407.5" x2="501.14" y2="407.5" stroke="#1d4f8c" stroke-width="1.2" />
<line x1="499.34" y1="416.96" x2="499.34" y2="410.05" stroke="#1d6f5a" stroke-width="1.3" />
<line x1="497.54" y1="416.5" x2="501.14" y2="416.5" stroke="#1d6f5a" stroke-width="1.2" />
<line x1="497.54" y1="410.5" x2="501.14" y2="410.5" stroke="#1d6f5a" stroke-width="1.2" />
<line x1="378.7" y1="395" x2="390.2" y2="395" stroke="#c8102e" stroke-width="1.9" />
<circle cx="384.5" cy="395" r="1.6" fill="#c8102e"/>
<text x="392.1" y="397.2" font-size="6.6" text-anchor="start" fill="#333" stroke="#333" stroke-width="0.12" textLength="21" lengthAdjust="spacingAndGlyphs" >sgNone</text>
<line x1="378.7" y1="402.85" x2="390.2" y2="402.85" stroke="#1d4f8c" stroke-width="1.9" />
<circle cx="384.5" cy="402.85" r="1.6" fill="#1d4f8c"/>
<text x="392.1" y="405.05" font-size="6.6" text-anchor="start" fill="#333" stroke="#333" stroke-width="0.12" textLength="30.5" lengthAdjust="spacingAndGlyphs" >sgSEMA4A</text>
<line x1="378.7" y1="410.7" x2="390.2" y2="410.7" stroke="#5cc05a" stroke-width="1.9" />
<circle cx="384.5" cy="410.7" r="1.6" fill="#5cc05a"/>
<text x="392.1" y="412.9" font-size="6.6" text-anchor="start" fill="#333" stroke="#333" stroke-width="0.12" textLength="42.5" lengthAdjust="spacingAndGlyphs" >sgNone (+HS5)</text>
<line x1="378.7" y1="418.55" x2="390.2" y2="418.55" stroke="#5b2d8e" stroke-width="1.9" />
<circle cx="384.5" cy="418.55" r="1.6" fill="#5b2d8e"/>
<text x="392.1" y="420.75" font-size="6.6" text-anchor="start" fill="#333" stroke="#333" stroke-width="0.12" textLength="52" lengthAdjust="spacingAndGlyphs" >sgSEMA4A (+HS5)</text>
<line x1="378.7" y1="426.4" x2="390.2" y2="426.4" stroke="#f6a623" stroke-width="1.9" />
<rect x="382.9" y="424.8" width="3.2" height="3.2" fill="#f6a623"/>
<text x="392.1" y="428.6" font-size="6.6" text-anchor="start" fill="#333" stroke="#333" stroke-width="0.12" textLength="41" lengthAdjust="spacingAndGlyphs" >sgNone (+IL-6)</text>
<line x1="378.7" y1="434.25" x2="390.2" y2="434.25" stroke="#1d6f5a" stroke-width="1.9" />
<rect x="382.9" y="432.65" width="3.2" height="3.2" fill="#1d6f5a"/>
<text x="392.1" y="436.45" font-size="6.6" text-anchor="start" fill="#333" stroke="#333" stroke-width="0.12" textLength="51" lengthAdjust="spacingAndGlyphs" >sgSEMA4A (+IL-6)</text>
</g>
<rect x="0.5" y="0.5" width="518.8" height="520.8" fill="none" stroke="#000" stroke-width="1.1"/>
</svg></body></html>
